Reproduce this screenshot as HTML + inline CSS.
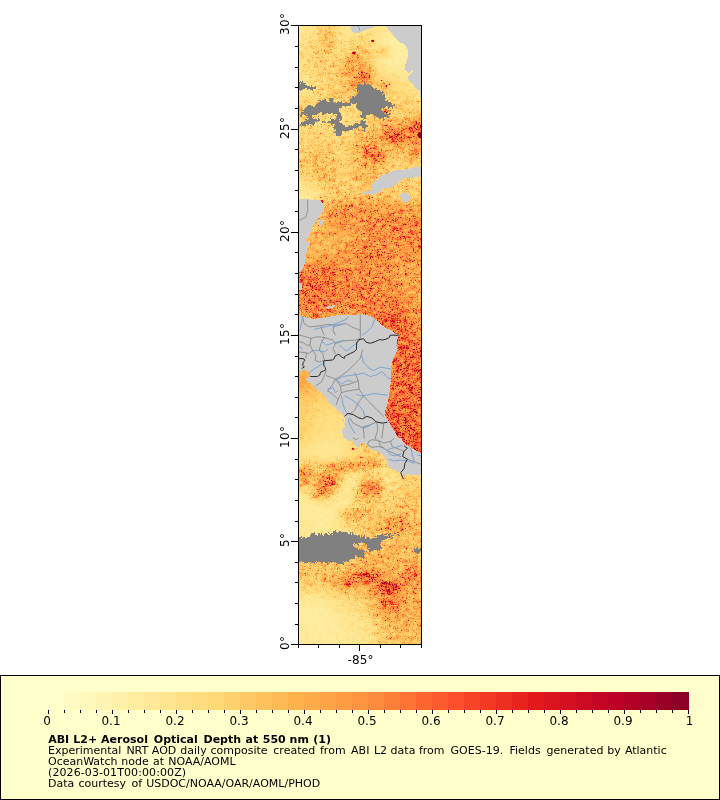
<!DOCTYPE html>
<html lang="en"><head><meta charset="utf-8"><title>ABI L2+ Aerosol Optical Depth at 550 nm</title>
<style>html,body{margin:0;padding:0;background:#fff;width:720px;height:800px;overflow:hidden}</style></head>
<body>
<svg width="720" height="800" viewBox="0 0 720 800" style="display:block;position:absolute;left:0;top:0">
<rect x="0" y="0" width="720" height="800" fill="#fff"/>
<defs>
<clipPath id="mc"><rect x="299" y="26" width="122" height="618"/></clipPath>
<filter id="b4" filterUnits="userSpaceOnUse" x="269" y="-4" width="182" height="678" color-interpolation-filters="sRGB"><feGaussianBlur stdDeviation="4.5"/></filter>
<filter id="bb1" filterUnits="userSpaceOnUse" x="269" y="-4" width="182" height="678" color-interpolation-filters="sRGB"><feGaussianBlur stdDeviation="1"/></filter>
<filter id="bb2" filterUnits="userSpaceOnUse" x="269" y="-4" width="182" height="678" color-interpolation-filters="sRGB"><feGaussianBlur stdDeviation="2"/></filter>
<filter id="bb3" filterUnits="userSpaceOnUse" x="269" y="-4" width="182" height="678" color-interpolation-filters="sRGB"><feGaussianBlur stdDeviation="3"/></filter>
<filter id="bb5" filterUnits="userSpaceOnUse" x="269" y="-4" width="182" height="678" color-interpolation-filters="sRGB"><feGaussianBlur stdDeviation="5"/></filter>
<filter id="cm" filterUnits="userSpaceOnUse" x="299" y="26" width="122" height="618" color-interpolation-filters="sRGB">
<feTurbulence type="fractalNoise" baseFrequency="0.75" numOctaves="2" seed="5" result="t"/>
<feColorMatrix in="t" type="matrix" values="1 0 0 0 0 1 0 0 0 0 1 0 0 0 0 0 0 0 0 1" result="n0"/>
<feComponentTransfer in="n0" result="n1"><feFuncR type="table" tableValues="0.272 0.272 0.272 0.304 0.352 0.400 0.488 0.640 0.920 1.000 1.000"/><feFuncG type="table" tableValues="0.272 0.272 0.272 0.304 0.352 0.400 0.488 0.640 0.920 1.000 1.000"/><feFuncB type="table" tableValues="0.272 0.272 0.272 0.304 0.352 0.400 0.488 0.640 0.920 1.000 1.000"/></feComponentTransfer>
<feTurbulence type="fractalNoise" baseFrequency="0.22" numOctaves="3" seed="11" result="t2"/>
<feColorMatrix in="t2" type="matrix" values="1 0 0 0 0 1 0 0 0 0 1 0 0 0 0 0 0 0 0 1" result="n20"/>
<feComponentTransfer in="n20" result="n2"><feFuncR type="table" tableValues="0.400 0.400 0.424 0.471 0.529 0.588 0.676 0.794 0.941 1.000 1.000"/><feFuncG type="table" tableValues="0.400 0.400 0.424 0.471 0.529 0.588 0.676 0.794 0.941 1.000 1.000"/><feFuncB type="table" tableValues="0.400 0.400 0.424 0.471 0.529 0.588 0.676 0.794 0.941 1.000 1.000"/></feComponentTransfer>
<feComposite in="n1" in2="n2" operator="arithmetic" k1="1" k2="0" k3="0" k4="0" result="n"/>
<feColorMatrix in="SourceGraphic" type="matrix" values="1 0 0 0 0 1 0 0 0 0 1 0 0 0 0 0 0 0 0 1" result="vg"/>
<feComponentTransfer in="vg" result="w"><feFuncR type="table" tableValues="0.0000 0.0075 0.0150 0.0225 0.0300 0.0650 0.1000 0.1450 0.1900 0.2200 0.2500 0.2750 0.3000 0.3250 0.3500 0.3750 0.4000 0.4250 0.4500 0.4750 0.5000 0.5250 0.5500 0.5750 0.6000 0.6250 0.6500 0.6750 0.7000 0.7250 0.7500 0.7750 0.8000 0.8250 0.8500 0.8750 0.9000 0.9250 0.9500 0.9750 1.0000"/><feFuncG type="table" tableValues="0.0000 0.0075 0.0150 0.0225 0.0300 0.0650 0.1000 0.1450 0.1900 0.2200 0.2500 0.2750 0.3000 0.3250 0.3500 0.3750 0.4000 0.4250 0.4500 0.4750 0.5000 0.5250 0.5500 0.5750 0.6000 0.6250 0.6500 0.6750 0.7000 0.7250 0.7500 0.7750 0.8000 0.8250 0.8500 0.8750 0.9000 0.9250 0.9500 0.9750 1.0000"/><feFuncB type="table" tableValues="0.0000 0.0075 0.0150 0.0225 0.0300 0.0650 0.1000 0.1450 0.1900 0.2200 0.2500 0.2750 0.3000 0.3250 0.3500 0.3750 0.4000 0.4250 0.4500 0.4750 0.5000 0.5250 0.5500 0.5750 0.6000 0.6250 0.6500 0.6750 0.7000 0.7250 0.7500 0.7750 0.8000 0.8250 0.8500 0.8750 0.9000 0.9250 0.9500 0.9750 1.0000"/></feComponentTransfer>
<feColorMatrix in="SourceGraphic" type="matrix" values="0 1 0 0 0 0 1 0 0 0 0 1 0 0 0 0 0 0 0 1" result="ag"/>
<feComposite in="w" in2="ag" operator="arithmetic" k1="1" k2="0" k3="0" k4="0" result="u"/>
<feComposite in="u" in2="n" operator="arithmetic" k1="4.25" k2="0" k3="0" k4="0" result="r"/>
<feColorMatrix in="vg" type="matrix" values="1 0 0 0 0 0 0 0 0 0 0 0 0 0 0 0 0 0 0 1" result="vr"/>
<feColorMatrix in="u" type="matrix" values="0 0 0 0 0 0 1 0 0 0 0 0 0 0 0 0 0 0 0 1" result="ugc"/>
<feComposite in="vr" in2="ugc" operator="arithmetic" k1="0" k2="1" k3="1" k4="0" result="vu"/>
<feColorMatrix in="vu" type="matrix" values="1 -1 0 0 0 1 -1 0 0 0 1 -1 0 0 0 0 0 0 0 1" result="q"/>
<feComposite in="q" in2="r" operator="arithmetic" k1="0" k2="1" k3="1" k4="0" result="v2"/>
<feComponentTransfer in="v2"><feFuncR type="table" tableValues="1.0000 1.0000 0.9961 0.9961 0.9922 0.9882 0.8902 0.7412 0.5020"/><feFuncG type="table" tableValues="1.0000 0.9294 0.8510 0.6980 0.5529 0.3059 0.1020 0.0000 0.0000"/><feFuncB type="table" tableValues="0.8000 0.6275 0.4627 0.2980 0.2353 0.1647 0.1098 0.1490 0.1490"/><feFuncA type="linear" slope="0" intercept="1"/></feComponentTransfer>
</filter>
</defs>
<g clip-path="url(#mc)">
<g filter="url(#cm)">
<rect x="294" y="21" width="132" height="628" fill="#4cbf00"/>
<g filter="url(#b4)" shape-rendering="crispEdges">
<rect x="274.00" y="1.00" width="35.47" height="35.60" fill="#28bf00"/>
<rect x="309.17" y="1.00" width="10.47" height="35.60" fill="#31bf00"/>
<rect x="319.33" y="1.00" width="10.47" height="35.60" fill="#48bf00"/>
<rect x="329.50" y="1.00" width="10.47" height="35.60" fill="#3bbf00"/>
<rect x="339.67" y="1.00" width="10.47" height="35.60" fill="#28bf00"/>
<rect x="349.83" y="1.00" width="10.47" height="35.60" fill="#2bbf00"/>
<rect x="360.00" y="1.00" width="10.47" height="35.60" fill="#2bbf00"/>
<rect x="370.17" y="1.00" width="10.47" height="35.60" fill="#316600"/>
<rect x="380.33" y="1.00" width="10.47" height="35.60" fill="#2b6600"/>
<rect x="390.50" y="1.00" width="10.47" height="35.60" fill="#216600"/>
<rect x="400.67" y="1.00" width="10.47" height="35.60" fill="#216600"/>
<rect x="410.83" y="1.00" width="35.47" height="35.60" fill="#216600"/>
<rect x="274.00" y="36.30" width="35.47" height="10.60" fill="#2ebf00"/>
<rect x="309.17" y="36.30" width="10.47" height="10.60" fill="#38bf00"/>
<rect x="319.33" y="36.30" width="10.47" height="10.60" fill="#48bf00"/>
<rect x="329.50" y="36.30" width="10.47" height="10.60" fill="#41bf00"/>
<rect x="339.67" y="36.30" width="10.47" height="10.60" fill="#2ebf00"/>
<rect x="349.83" y="36.30" width="10.47" height="10.60" fill="#38bf00"/>
<rect x="360.00" y="36.30" width="10.47" height="10.60" fill="#41bf00"/>
<rect x="370.17" y="36.30" width="10.47" height="10.60" fill="#316600"/>
<rect x="380.33" y="36.30" width="10.47" height="10.60" fill="#1b6600"/>
<rect x="390.50" y="36.30" width="10.47" height="10.60" fill="#1b6600"/>
<rect x="400.67" y="36.30" width="10.47" height="10.60" fill="#216600"/>
<rect x="410.83" y="36.30" width="35.47" height="10.60" fill="#216600"/>
<rect x="274.00" y="46.60" width="35.47" height="10.60" fill="#38bf00"/>
<rect x="309.17" y="46.60" width="10.47" height="10.60" fill="#3ebf00"/>
<rect x="319.33" y="46.60" width="10.47" height="10.60" fill="#48bf00"/>
<rect x="329.50" y="46.60" width="10.47" height="10.60" fill="#3bbf00"/>
<rect x="339.67" y="46.60" width="10.47" height="10.60" fill="#35bf00"/>
<rect x="349.83" y="46.60" width="10.47" height="10.60" fill="#51bf00"/>
<rect x="360.00" y="46.60" width="10.47" height="10.60" fill="#45bf00"/>
<rect x="370.17" y="46.60" width="10.47" height="10.60" fill="#386600"/>
<rect x="380.33" y="46.60" width="10.47" height="10.60" fill="#3e6600"/>
<rect x="390.50" y="46.60" width="10.47" height="10.60" fill="#1b6600"/>
<rect x="400.67" y="46.60" width="10.47" height="10.60" fill="#216600"/>
<rect x="410.83" y="46.60" width="35.47" height="10.60" fill="#216600"/>
<rect x="274.00" y="56.90" width="35.47" height="10.60" fill="#38bf00"/>
<rect x="309.17" y="56.90" width="10.47" height="10.60" fill="#3ebf00"/>
<rect x="319.33" y="56.90" width="10.47" height="10.60" fill="#41bf00"/>
<rect x="329.50" y="56.90" width="10.47" height="10.60" fill="#3ebf00"/>
<rect x="339.67" y="56.90" width="10.47" height="10.60" fill="#48bf00"/>
<rect x="349.83" y="56.90" width="10.47" height="10.60" fill="#61bf00"/>
<rect x="360.00" y="56.90" width="10.47" height="10.60" fill="#5bbf00"/>
<rect x="370.17" y="56.90" width="10.47" height="10.60" fill="#316600"/>
<rect x="380.33" y="56.90" width="10.47" height="10.60" fill="#1e6600"/>
<rect x="390.50" y="56.90" width="10.47" height="10.60" fill="#1e6600"/>
<rect x="400.67" y="56.90" width="10.47" height="10.60" fill="#216600"/>
<rect x="410.83" y="56.90" width="35.47" height="10.60" fill="#216600"/>
<rect x="274.00" y="67.20" width="35.47" height="10.60" fill="#35bf00"/>
<rect x="309.17" y="67.20" width="10.47" height="10.60" fill="#3bbf00"/>
<rect x="319.33" y="67.20" width="10.47" height="10.60" fill="#41bf00"/>
<rect x="329.50" y="67.20" width="10.47" height="10.60" fill="#41bf00"/>
<rect x="339.67" y="67.20" width="10.47" height="10.60" fill="#51bf00"/>
<rect x="349.83" y="67.20" width="10.47" height="10.60" fill="#5ebf00"/>
<rect x="360.00" y="67.20" width="10.47" height="10.60" fill="#6bbf00"/>
<rect x="370.17" y="67.20" width="10.47" height="10.60" fill="#456600"/>
<rect x="380.33" y="67.20" width="10.47" height="10.60" fill="#2b6600"/>
<rect x="390.50" y="67.20" width="10.47" height="10.60" fill="#2b6600"/>
<rect x="400.67" y="67.20" width="10.47" height="10.60" fill="#256600"/>
<rect x="410.83" y="67.20" width="35.47" height="10.60" fill="#216600"/>
<rect x="274.00" y="77.50" width="35.47" height="10.60" fill="#2ebf00"/>
<rect x="309.17" y="77.50" width="10.47" height="10.60" fill="#35bf00"/>
<rect x="319.33" y="77.50" width="10.47" height="10.60" fill="#3bbf00"/>
<rect x="329.50" y="77.50" width="10.47" height="10.60" fill="#41bf00"/>
<rect x="339.67" y="77.50" width="10.47" height="10.60" fill="#51bf00"/>
<rect x="349.83" y="77.50" width="10.47" height="10.60" fill="#61bf00"/>
<rect x="360.00" y="77.50" width="10.47" height="10.60" fill="#71bf00"/>
<rect x="370.17" y="77.50" width="10.47" height="10.60" fill="#4b6600"/>
<rect x="380.33" y="77.50" width="10.47" height="10.60" fill="#456600"/>
<rect x="390.50" y="77.50" width="10.47" height="10.60" fill="#386600"/>
<rect x="400.67" y="77.50" width="10.47" height="10.60" fill="#316600"/>
<rect x="410.83" y="77.50" width="35.47" height="10.60" fill="#316600"/>
<rect x="274.00" y="87.80" width="35.47" height="10.60" fill="#31bf00"/>
<rect x="309.17" y="87.80" width="10.47" height="10.60" fill="#38bf00"/>
<rect x="319.33" y="87.80" width="10.47" height="10.60" fill="#41bf00"/>
<rect x="329.50" y="87.80" width="10.47" height="10.60" fill="#48bf00"/>
<rect x="339.67" y="87.80" width="10.47" height="10.60" fill="#48bf00"/>
<rect x="349.83" y="87.80" width="10.47" height="10.60" fill="#58bf00"/>
<rect x="360.00" y="87.80" width="10.47" height="10.60" fill="#61bf00"/>
<rect x="370.17" y="87.80" width="10.47" height="10.60" fill="#4b6600"/>
<rect x="380.33" y="87.80" width="10.47" height="10.60" fill="#4b6600"/>
<rect x="390.50" y="87.80" width="10.47" height="10.60" fill="#3e6600"/>
<rect x="400.67" y="87.80" width="10.47" height="10.60" fill="#386600"/>
<rect x="410.83" y="87.80" width="35.47" height="10.60" fill="#316600"/>
<rect x="274.00" y="98.10" width="35.47" height="10.60" fill="#3dbf00"/>
<rect x="309.17" y="98.10" width="10.47" height="10.60" fill="#3dbf00"/>
<rect x="319.33" y="98.10" width="10.47" height="10.60" fill="#40bf00"/>
<rect x="329.50" y="98.10" width="10.47" height="10.60" fill="#46bf00"/>
<rect x="339.67" y="98.10" width="10.47" height="10.60" fill="#40bf00"/>
<rect x="349.83" y="98.10" width="10.47" height="10.60" fill="#45bf00"/>
<rect x="360.00" y="98.10" width="10.47" height="10.60" fill="#4bbf00"/>
<rect x="370.17" y="98.10" width="10.47" height="10.60" fill="#4bbf00"/>
<rect x="380.33" y="98.10" width="10.47" height="10.60" fill="#41bf00"/>
<rect x="390.50" y="98.10" width="10.47" height="10.60" fill="#41bf00"/>
<rect x="400.67" y="98.10" width="10.47" height="10.60" fill="#41bf00"/>
<rect x="410.83" y="98.10" width="35.47" height="10.60" fill="#3bbf00"/>
<rect x="274.00" y="108.40" width="35.47" height="10.60" fill="#4cbf00"/>
<rect x="309.17" y="108.40" width="10.47" height="10.60" fill="#40bf00"/>
<rect x="319.33" y="108.40" width="10.47" height="10.60" fill="#3dbf00"/>
<rect x="329.50" y="108.40" width="10.47" height="10.60" fill="#3dbf00"/>
<rect x="339.67" y="108.40" width="10.47" height="10.60" fill="#33bf00"/>
<rect x="349.83" y="108.40" width="10.47" height="10.60" fill="#38bf00"/>
<rect x="360.00" y="108.40" width="10.47" height="10.60" fill="#41bf00"/>
<rect x="370.17" y="108.40" width="10.47" height="10.60" fill="#4bbf00"/>
<rect x="380.33" y="108.40" width="10.47" height="10.60" fill="#51bf00"/>
<rect x="390.50" y="108.40" width="10.47" height="10.60" fill="#41bf00"/>
<rect x="400.67" y="108.40" width="10.47" height="10.60" fill="#48bf00"/>
<rect x="410.83" y="108.40" width="35.47" height="10.60" fill="#4bbf00"/>
<rect x="274.00" y="118.70" width="35.47" height="10.60" fill="#3dbf00"/>
<rect x="309.17" y="118.70" width="10.47" height="10.60" fill="#3dbf00"/>
<rect x="319.33" y="118.70" width="10.47" height="10.60" fill="#3dbf00"/>
<rect x="329.50" y="118.70" width="10.47" height="10.60" fill="#39bf00"/>
<rect x="339.67" y="118.70" width="10.47" height="10.60" fill="#36bf00"/>
<rect x="349.83" y="118.70" width="10.47" height="10.60" fill="#3bbf00"/>
<rect x="360.00" y="118.70" width="10.47" height="10.60" fill="#41bf00"/>
<rect x="370.17" y="118.70" width="10.47" height="10.60" fill="#45bf00"/>
<rect x="380.33" y="118.70" width="10.47" height="10.60" fill="#51bf00"/>
<rect x="390.50" y="118.70" width="10.47" height="10.60" fill="#51bf00"/>
<rect x="400.67" y="118.70" width="10.47" height="10.60" fill="#5bbf00"/>
<rect x="410.83" y="118.70" width="35.47" height="10.60" fill="#71bf00"/>
<rect x="274.00" y="129.00" width="35.47" height="10.60" fill="#3dbf00"/>
<rect x="309.17" y="129.00" width="10.47" height="10.60" fill="#3dbf00"/>
<rect x="319.33" y="129.00" width="10.47" height="10.60" fill="#3dbf00"/>
<rect x="329.50" y="129.00" width="10.47" height="10.60" fill="#3dbf00"/>
<rect x="339.67" y="129.00" width="10.47" height="10.60" fill="#3dbf00"/>
<rect x="349.83" y="129.00" width="10.47" height="10.60" fill="#45bf00"/>
<rect x="360.00" y="129.00" width="10.47" height="10.60" fill="#51bf00"/>
<rect x="370.17" y="129.00" width="10.47" height="10.60" fill="#58bf00"/>
<rect x="380.33" y="129.00" width="10.47" height="10.60" fill="#6bbf00"/>
<rect x="390.50" y="129.00" width="10.47" height="10.60" fill="#81bf00"/>
<rect x="400.67" y="129.00" width="10.47" height="10.60" fill="#71bf00"/>
<rect x="410.83" y="129.00" width="35.47" height="10.60" fill="#81bf00"/>
<rect x="274.00" y="139.30" width="35.47" height="10.60" fill="#3dbf00"/>
<rect x="309.17" y="139.30" width="10.47" height="10.60" fill="#43bf00"/>
<rect x="319.33" y="139.30" width="10.47" height="10.60" fill="#43bf00"/>
<rect x="329.50" y="139.30" width="10.47" height="10.60" fill="#3dbf00"/>
<rect x="339.67" y="139.30" width="10.47" height="10.60" fill="#3dbf00"/>
<rect x="349.83" y="139.30" width="10.47" height="10.60" fill="#51bf00"/>
<rect x="360.00" y="139.30" width="10.47" height="10.60" fill="#61bf00"/>
<rect x="370.17" y="139.30" width="10.47" height="10.60" fill="#5bbf00"/>
<rect x="380.33" y="139.30" width="10.47" height="10.60" fill="#51bf00"/>
<rect x="390.50" y="139.30" width="10.47" height="10.60" fill="#61bf00"/>
<rect x="400.67" y="139.30" width="10.47" height="10.60" fill="#5bbf00"/>
<rect x="410.83" y="139.30" width="35.47" height="10.60" fill="#61bf00"/>
<rect x="274.00" y="149.60" width="35.47" height="10.60" fill="#43bf00"/>
<rect x="309.17" y="149.60" width="10.47" height="10.60" fill="#4cbf00"/>
<rect x="319.33" y="149.60" width="10.47" height="10.60" fill="#4cbf00"/>
<rect x="329.50" y="149.60" width="10.47" height="10.60" fill="#43bf00"/>
<rect x="339.67" y="149.60" width="10.47" height="10.60" fill="#43bf00"/>
<rect x="349.83" y="149.60" width="10.47" height="10.60" fill="#51bf00"/>
<rect x="360.00" y="149.60" width="10.47" height="10.60" fill="#64bf00"/>
<rect x="370.17" y="149.60" width="10.47" height="10.60" fill="#78bf00"/>
<rect x="380.33" y="149.60" width="10.47" height="10.60" fill="#58bf00"/>
<rect x="390.50" y="149.60" width="10.47" height="10.60" fill="#41bf00"/>
<rect x="400.67" y="149.60" width="10.47" height="10.60" fill="#51bf00"/>
<rect x="410.83" y="149.60" width="35.47" height="10.60" fill="#61bf00"/>
<rect x="274.00" y="159.90" width="35.47" height="10.60" fill="#46bf00"/>
<rect x="309.17" y="159.90" width="10.47" height="10.60" fill="#53bf00"/>
<rect x="319.33" y="159.90" width="10.47" height="10.60" fill="#4cbf00"/>
<rect x="329.50" y="159.90" width="10.47" height="10.60" fill="#46bf00"/>
<rect x="339.67" y="159.90" width="10.47" height="10.60" fill="#39bf00"/>
<rect x="349.83" y="159.90" width="10.47" height="10.60" fill="#4bbf00"/>
<rect x="360.00" y="159.90" width="10.47" height="10.60" fill="#58bf00"/>
<rect x="370.17" y="159.90" width="10.47" height="10.60" fill="#5ebf00"/>
<rect x="380.33" y="159.90" width="10.47" height="10.60" fill="#4bbf00"/>
<rect x="390.50" y="159.90" width="10.47" height="10.60" fill="#3ebf00"/>
<rect x="400.67" y="159.90" width="10.47" height="10.60" fill="#41bf00"/>
<rect x="410.83" y="159.90" width="35.47" height="10.60" fill="#41bf00"/>
<rect x="274.00" y="170.20" width="35.47" height="10.60" fill="#40bf00"/>
<rect x="309.17" y="170.20" width="10.47" height="10.60" fill="#4cbf00"/>
<rect x="319.33" y="170.20" width="10.47" height="10.60" fill="#53bf00"/>
<rect x="329.50" y="170.20" width="10.47" height="10.60" fill="#4cbf00"/>
<rect x="339.67" y="170.20" width="10.47" height="10.60" fill="#3dbf00"/>
<rect x="349.83" y="170.20" width="10.47" height="10.60" fill="#58bf00"/>
<rect x="360.00" y="170.20" width="10.47" height="10.60" fill="#51bf00"/>
<rect x="370.17" y="170.20" width="10.47" height="10.60" fill="#51bf00"/>
<rect x="380.33" y="170.20" width="10.47" height="10.60" fill="#4bbf00"/>
<rect x="390.50" y="170.20" width="10.47" height="10.60" fill="#41bf00"/>
<rect x="400.67" y="170.20" width="10.47" height="10.60" fill="#41bf00"/>
<rect x="410.83" y="170.20" width="35.47" height="10.60" fill="#41bf00"/>
<rect x="274.00" y="180.50" width="35.47" height="10.60" fill="#2dbf00"/>
<rect x="309.17" y="180.50" width="10.47" height="10.60" fill="#33bf00"/>
<rect x="319.33" y="180.50" width="10.47" height="10.60" fill="#46bf00"/>
<rect x="329.50" y="180.50" width="10.47" height="10.60" fill="#4cbf00"/>
<rect x="339.67" y="180.50" width="10.47" height="10.60" fill="#3dbf00"/>
<rect x="349.83" y="180.50" width="10.47" height="10.60" fill="#3bbf00"/>
<rect x="360.00" y="180.50" width="10.47" height="10.60" fill="#51bf00"/>
<rect x="370.17" y="180.50" width="10.47" height="10.60" fill="#51bf00"/>
<rect x="380.33" y="180.50" width="10.47" height="10.60" fill="#4bbf00"/>
<rect x="390.50" y="180.50" width="10.47" height="10.60" fill="#41bf00"/>
<rect x="400.67" y="180.50" width="10.47" height="10.60" fill="#4bbf00"/>
<rect x="410.83" y="180.50" width="35.47" height="10.60" fill="#41bf00"/>
<rect x="274.00" y="190.80" width="35.47" height="10.60" fill="#25bf00"/>
<rect x="309.17" y="190.80" width="10.47" height="10.60" fill="#25bf00"/>
<rect x="319.33" y="190.80" width="10.47" height="10.60" fill="#35bf00"/>
<rect x="329.50" y="190.80" width="10.47" height="10.60" fill="#45bf00"/>
<rect x="339.67" y="190.80" width="10.47" height="10.60" fill="#4bbf00"/>
<rect x="349.83" y="190.80" width="10.47" height="10.60" fill="#4bbf00"/>
<rect x="360.00" y="190.80" width="10.47" height="10.60" fill="#4bbf00"/>
<rect x="370.17" y="190.80" width="10.47" height="10.60" fill="#4bbf00"/>
<rect x="380.33" y="190.80" width="10.47" height="10.60" fill="#4bbf00"/>
<rect x="390.50" y="190.80" width="10.47" height="10.60" fill="#3ebf00"/>
<rect x="400.67" y="190.80" width="10.47" height="10.60" fill="#41bf00"/>
<rect x="410.83" y="190.80" width="35.47" height="10.60" fill="#45bf00"/>
<rect x="274.00" y="201.10" width="35.47" height="10.60" fill="#35bf00"/>
<rect x="309.17" y="201.10" width="10.47" height="10.60" fill="#3bbf00"/>
<rect x="319.33" y="201.10" width="10.47" height="10.60" fill="#5bbf00"/>
<rect x="329.50" y="201.10" width="10.47" height="10.60" fill="#61bf00"/>
<rect x="339.67" y="201.10" width="10.47" height="10.60" fill="#6bbf00"/>
<rect x="349.83" y="201.10" width="10.47" height="10.60" fill="#6bbf00"/>
<rect x="360.00" y="201.10" width="10.47" height="10.60" fill="#6bbf00"/>
<rect x="370.17" y="201.10" width="10.47" height="10.60" fill="#6bbf00"/>
<rect x="380.33" y="201.10" width="10.47" height="10.60" fill="#61bf00"/>
<rect x="390.50" y="201.10" width="10.47" height="10.60" fill="#61bf00"/>
<rect x="400.67" y="201.10" width="10.47" height="10.60" fill="#5bbf00"/>
<rect x="410.83" y="201.10" width="35.47" height="10.60" fill="#61bf00"/>
<rect x="274.00" y="211.40" width="35.47" height="10.60" fill="#3bbf00"/>
<rect x="309.17" y="211.40" width="10.47" height="10.60" fill="#4bbf00"/>
<rect x="319.33" y="211.40" width="10.47" height="10.60" fill="#5bbf00"/>
<rect x="329.50" y="211.40" width="10.47" height="10.60" fill="#74bf00"/>
<rect x="339.67" y="211.40" width="10.47" height="10.60" fill="#74bf00"/>
<rect x="349.83" y="211.40" width="10.47" height="10.60" fill="#6bbf00"/>
<rect x="360.00" y="211.40" width="10.47" height="10.60" fill="#6bbf00"/>
<rect x="370.17" y="211.40" width="10.47" height="10.60" fill="#6bbf00"/>
<rect x="380.33" y="211.40" width="10.47" height="10.60" fill="#74bf00"/>
<rect x="390.50" y="211.40" width="10.47" height="10.60" fill="#7bbf00"/>
<rect x="400.67" y="211.40" width="10.47" height="10.60" fill="#6bbf00"/>
<rect x="410.83" y="211.40" width="35.47" height="10.60" fill="#6bbf00"/>
<rect x="274.00" y="221.70" width="35.47" height="10.60" fill="#3b9900"/>
<rect x="309.17" y="221.70" width="10.47" height="10.60" fill="#4b9900"/>
<rect x="319.33" y="221.70" width="10.47" height="10.60" fill="#5b9900"/>
<rect x="329.50" y="221.70" width="10.47" height="10.60" fill="#6b9900"/>
<rect x="339.67" y="221.70" width="10.47" height="10.60" fill="#6b9900"/>
<rect x="349.83" y="221.70" width="10.47" height="10.60" fill="#649900"/>
<rect x="360.00" y="221.70" width="10.47" height="10.60" fill="#74bf00"/>
<rect x="370.17" y="221.70" width="10.47" height="10.60" fill="#74bf00"/>
<rect x="380.33" y="221.70" width="10.47" height="10.60" fill="#74bf00"/>
<rect x="390.50" y="221.70" width="10.47" height="10.60" fill="#7bbf00"/>
<rect x="400.67" y="221.70" width="10.47" height="10.60" fill="#7bbf00"/>
<rect x="410.83" y="221.70" width="35.47" height="10.60" fill="#7bbf00"/>
<rect x="274.00" y="232.00" width="35.47" height="10.60" fill="#489900"/>
<rect x="309.17" y="232.00" width="10.47" height="10.60" fill="#589900"/>
<rect x="319.33" y="232.00" width="10.47" height="10.60" fill="#619900"/>
<rect x="329.50" y="232.00" width="10.47" height="10.60" fill="#589900"/>
<rect x="339.67" y="232.00" width="10.47" height="10.60" fill="#589900"/>
<rect x="349.83" y="232.00" width="10.47" height="10.60" fill="#619900"/>
<rect x="360.00" y="232.00" width="10.47" height="10.60" fill="#71bf00"/>
<rect x="370.17" y="232.00" width="10.47" height="10.60" fill="#71bf00"/>
<rect x="380.33" y="232.00" width="10.47" height="10.60" fill="#71bf00"/>
<rect x="390.50" y="232.00" width="10.47" height="10.60" fill="#73bf00"/>
<rect x="400.67" y="232.00" width="10.47" height="10.60" fill="#73bf00"/>
<rect x="410.83" y="232.00" width="35.47" height="10.60" fill="#73bf00"/>
<rect x="274.00" y="242.30" width="35.47" height="10.60" fill="#489900"/>
<rect x="309.17" y="242.30" width="10.47" height="10.60" fill="#589900"/>
<rect x="319.33" y="242.30" width="10.47" height="10.60" fill="#4e9900"/>
<rect x="329.50" y="242.30" width="10.47" height="10.60" fill="#589900"/>
<rect x="339.67" y="242.30" width="10.47" height="10.60" fill="#689900"/>
<rect x="349.83" y="242.30" width="10.47" height="10.60" fill="#6e9900"/>
<rect x="360.00" y="242.30" width="10.47" height="10.60" fill="#78bf00"/>
<rect x="370.17" y="242.30" width="10.47" height="10.60" fill="#71bf00"/>
<rect x="380.33" y="242.30" width="10.47" height="10.60" fill="#71bf00"/>
<rect x="390.50" y="242.30" width="10.47" height="10.60" fill="#73bf00"/>
<rect x="400.67" y="242.30" width="10.47" height="10.60" fill="#73bf00"/>
<rect x="410.83" y="242.30" width="35.47" height="10.60" fill="#73bf00"/>
<rect x="274.00" y="252.60" width="35.47" height="10.60" fill="#589900"/>
<rect x="309.17" y="252.60" width="10.47" height="10.60" fill="#619900"/>
<rect x="319.33" y="252.60" width="10.47" height="10.60" fill="#6e9900"/>
<rect x="329.50" y="252.60" width="10.47" height="10.60" fill="#689900"/>
<rect x="339.67" y="252.60" width="10.47" height="10.60" fill="#6e9900"/>
<rect x="349.83" y="252.60" width="10.47" height="10.60" fill="#6e9900"/>
<rect x="360.00" y="252.60" width="10.47" height="10.60" fill="#78bf00"/>
<rect x="370.17" y="252.60" width="10.47" height="10.60" fill="#78bf00"/>
<rect x="380.33" y="252.60" width="10.47" height="10.60" fill="#78bf00"/>
<rect x="390.50" y="252.60" width="10.47" height="10.60" fill="#6cbf00"/>
<rect x="400.67" y="252.60" width="10.47" height="10.60" fill="#6cbf00"/>
<rect x="410.83" y="252.60" width="35.47" height="10.60" fill="#73bf00"/>
<rect x="274.00" y="262.90" width="35.47" height="10.60" fill="#70bf00"/>
<rect x="309.17" y="262.90" width="10.47" height="10.60" fill="#76bf00"/>
<rect x="319.33" y="262.90" width="10.47" height="10.60" fill="#7fbf00"/>
<rect x="329.50" y="262.90" width="10.47" height="10.60" fill="#76bf00"/>
<rect x="339.67" y="262.90" width="10.47" height="10.60" fill="#6cbf00"/>
<rect x="349.83" y="262.90" width="10.47" height="10.60" fill="#6cbf00"/>
<rect x="360.00" y="262.90" width="10.47" height="10.60" fill="#74bf00"/>
<rect x="370.17" y="262.90" width="10.47" height="10.60" fill="#6ebf00"/>
<rect x="380.33" y="262.90" width="10.47" height="10.60" fill="#6ebf00"/>
<rect x="390.50" y="262.90" width="10.47" height="10.60" fill="#69bf00"/>
<rect x="400.67" y="262.90" width="10.47" height="10.60" fill="#63bf00"/>
<rect x="410.83" y="262.90" width="35.47" height="10.60" fill="#63bf00"/>
<rect x="274.00" y="273.20" width="35.47" height="10.60" fill="#87bf00"/>
<rect x="309.17" y="273.20" width="10.47" height="10.60" fill="#87bf00"/>
<rect x="319.33" y="273.20" width="10.47" height="10.60" fill="#87bf00"/>
<rect x="329.50" y="273.20" width="10.47" height="10.60" fill="#81bf00"/>
<rect x="339.67" y="273.20" width="10.47" height="10.60" fill="#78bf00"/>
<rect x="349.83" y="273.20" width="10.47" height="10.60" fill="#78bf00"/>
<rect x="360.00" y="273.20" width="10.47" height="10.60" fill="#74bf00"/>
<rect x="370.17" y="273.20" width="10.47" height="10.60" fill="#74bf00"/>
<rect x="380.33" y="273.20" width="10.47" height="10.60" fill="#74bf00"/>
<rect x="390.50" y="273.20" width="10.47" height="10.60" fill="#69bf00"/>
<rect x="400.67" y="273.20" width="10.47" height="10.60" fill="#63bf00"/>
<rect x="410.83" y="273.20" width="35.47" height="10.60" fill="#63bf00"/>
<rect x="274.00" y="283.50" width="35.47" height="10.60" fill="#87bf00"/>
<rect x="309.17" y="283.50" width="10.47" height="10.60" fill="#87bf00"/>
<rect x="319.33" y="283.50" width="10.47" height="10.60" fill="#81bf00"/>
<rect x="329.50" y="283.50" width="10.47" height="10.60" fill="#81bf00"/>
<rect x="339.67" y="283.50" width="10.47" height="10.60" fill="#78bf00"/>
<rect x="349.83" y="283.50" width="10.47" height="10.60" fill="#78bf00"/>
<rect x="360.00" y="283.50" width="10.47" height="10.60" fill="#78bf00"/>
<rect x="370.17" y="283.50" width="10.47" height="10.60" fill="#78bf00"/>
<rect x="380.33" y="283.50" width="10.47" height="10.60" fill="#78bf00"/>
<rect x="390.50" y="283.50" width="10.47" height="10.60" fill="#70bf00"/>
<rect x="400.67" y="283.50" width="10.47" height="10.60" fill="#69bf00"/>
<rect x="410.83" y="283.50" width="35.47" height="10.60" fill="#63bf00"/>
<rect x="274.00" y="293.80" width="35.47" height="10.60" fill="#7ebf00"/>
<rect x="309.17" y="293.80" width="10.47" height="10.60" fill="#7ebf00"/>
<rect x="319.33" y="293.80" width="10.47" height="10.60" fill="#7ebf00"/>
<rect x="329.50" y="293.80" width="10.47" height="10.60" fill="#7ebf00"/>
<rect x="339.67" y="293.80" width="10.47" height="10.60" fill="#78bf00"/>
<rect x="349.83" y="293.80" width="10.47" height="10.60" fill="#78bf00"/>
<rect x="360.00" y="293.80" width="10.47" height="10.60" fill="#78bf00"/>
<rect x="370.17" y="293.80" width="10.47" height="10.60" fill="#78bf00"/>
<rect x="380.33" y="293.80" width="10.47" height="10.60" fill="#78bf00"/>
<rect x="390.50" y="293.80" width="10.47" height="10.60" fill="#73bf00"/>
<rect x="400.67" y="293.80" width="10.47" height="10.60" fill="#69bf00"/>
<rect x="410.83" y="293.80" width="35.47" height="10.60" fill="#63bf00"/>
<rect x="274.00" y="304.10" width="35.47" height="10.60" fill="#78bf00"/>
<rect x="309.17" y="304.10" width="10.47" height="10.60" fill="#7ebf00"/>
<rect x="319.33" y="304.10" width="10.47" height="10.60" fill="#7ebf00"/>
<rect x="329.50" y="304.10" width="10.47" height="10.60" fill="#78bf00"/>
<rect x="339.67" y="304.10" width="10.47" height="10.60" fill="#6ebf00"/>
<rect x="349.83" y="304.10" width="10.47" height="10.60" fill="#78bf00"/>
<rect x="360.00" y="304.10" width="10.47" height="10.60" fill="#7ebf00"/>
<rect x="370.17" y="304.10" width="10.47" height="10.60" fill="#7ebf00"/>
<rect x="380.33" y="304.10" width="10.47" height="10.60" fill="#7ebf00"/>
<rect x="390.50" y="304.10" width="10.47" height="10.60" fill="#87bf00"/>
<rect x="400.67" y="304.10" width="10.47" height="10.60" fill="#78bf00"/>
<rect x="410.83" y="304.10" width="35.47" height="10.60" fill="#68bf00"/>
<rect x="274.00" y="314.40" width="35.47" height="10.60" fill="#5ebf00"/>
<rect x="309.17" y="314.40" width="10.47" height="10.60" fill="#6ebf00"/>
<rect x="319.33" y="314.40" width="10.47" height="10.60" fill="#6ebf00"/>
<rect x="329.50" y="314.40" width="10.47" height="10.60" fill="#68bf00"/>
<rect x="339.67" y="314.40" width="10.47" height="10.60" fill="#5ebf00"/>
<rect x="349.83" y="314.40" width="10.47" height="10.60" fill="#5ebf00"/>
<rect x="360.00" y="314.40" width="10.47" height="10.60" fill="#78bf00"/>
<rect x="370.17" y="314.40" width="10.47" height="10.60" fill="#87bf00"/>
<rect x="380.33" y="314.40" width="10.47" height="10.60" fill="#8ebf00"/>
<rect x="390.50" y="314.40" width="10.47" height="10.60" fill="#94bf00"/>
<rect x="400.67" y="314.40" width="10.47" height="10.60" fill="#7ebf00"/>
<rect x="410.83" y="314.40" width="35.47" height="10.60" fill="#6ebf00"/>
<rect x="274.00" y="324.70" width="35.47" height="10.60" fill="#5ebf00"/>
<rect x="309.17" y="324.70" width="10.47" height="10.60" fill="#6ebf00"/>
<rect x="319.33" y="324.70" width="10.47" height="10.60" fill="#6ebf00"/>
<rect x="329.50" y="324.70" width="10.47" height="10.60" fill="#68bf00"/>
<rect x="339.67" y="324.70" width="10.47" height="10.60" fill="#5ebf00"/>
<rect x="349.83" y="324.70" width="10.47" height="10.60" fill="#5ebf00"/>
<rect x="360.00" y="324.70" width="10.47" height="10.60" fill="#78bf00"/>
<rect x="370.17" y="324.70" width="10.47" height="10.60" fill="#7ebf00"/>
<rect x="380.33" y="324.70" width="10.47" height="10.60" fill="#8ebf00"/>
<rect x="390.50" y="324.70" width="10.47" height="10.60" fill="#94bf00"/>
<rect x="400.67" y="324.70" width="10.47" height="10.60" fill="#87bf00"/>
<rect x="410.83" y="324.70" width="35.47" height="10.60" fill="#6ebf00"/>
<rect x="274.00" y="335.00" width="35.47" height="10.60" fill="#61bf00"/>
<rect x="309.17" y="335.00" width="10.47" height="10.60" fill="#61bf00"/>
<rect x="319.33" y="335.00" width="10.47" height="10.60" fill="#61bf00"/>
<rect x="329.50" y="335.00" width="10.47" height="10.60" fill="#61bf00"/>
<rect x="339.67" y="335.00" width="10.47" height="10.60" fill="#61bf00"/>
<rect x="349.83" y="335.00" width="10.47" height="10.60" fill="#61bf00"/>
<rect x="360.00" y="335.00" width="10.47" height="10.60" fill="#71bf00"/>
<rect x="370.17" y="335.00" width="10.47" height="10.60" fill="#78bf00"/>
<rect x="380.33" y="335.00" width="10.47" height="10.60" fill="#87bf00"/>
<rect x="390.50" y="335.00" width="10.47" height="10.60" fill="#87bf00"/>
<rect x="400.67" y="335.00" width="10.47" height="10.60" fill="#87bf00"/>
<rect x="410.83" y="335.00" width="35.47" height="10.60" fill="#81bf00"/>
<rect x="274.00" y="345.30" width="35.47" height="10.60" fill="#61bf00"/>
<rect x="309.17" y="345.30" width="10.47" height="10.60" fill="#61bf00"/>
<rect x="319.33" y="345.30" width="10.47" height="10.60" fill="#61bf00"/>
<rect x="329.50" y="345.30" width="10.47" height="10.60" fill="#61bf00"/>
<rect x="339.67" y="345.30" width="10.47" height="10.60" fill="#61bf00"/>
<rect x="349.83" y="345.30" width="10.47" height="10.60" fill="#61bf00"/>
<rect x="360.00" y="345.30" width="10.47" height="10.60" fill="#71bf00"/>
<rect x="370.17" y="345.30" width="10.47" height="10.60" fill="#78bf00"/>
<rect x="380.33" y="345.30" width="10.47" height="10.60" fill="#8bbf00"/>
<rect x="390.50" y="345.30" width="10.47" height="10.60" fill="#8bbf00"/>
<rect x="400.67" y="345.30" width="10.47" height="10.60" fill="#91bf00"/>
<rect x="410.83" y="345.30" width="35.47" height="10.60" fill="#87bf00"/>
<rect x="274.00" y="355.60" width="35.47" height="10.60" fill="#61bf00"/>
<rect x="309.17" y="355.60" width="10.47" height="10.60" fill="#61bf00"/>
<rect x="319.33" y="355.60" width="10.47" height="10.60" fill="#61bf00"/>
<rect x="329.50" y="355.60" width="10.47" height="10.60" fill="#61bf00"/>
<rect x="339.67" y="355.60" width="10.47" height="10.60" fill="#61bf00"/>
<rect x="349.83" y="355.60" width="10.47" height="10.60" fill="#61bf00"/>
<rect x="360.00" y="355.60" width="10.47" height="10.60" fill="#71bf00"/>
<rect x="370.17" y="355.60" width="10.47" height="10.60" fill="#78bf00"/>
<rect x="380.33" y="355.60" width="10.47" height="10.60" fill="#81bf00"/>
<rect x="390.50" y="355.60" width="10.47" height="10.60" fill="#81bf00"/>
<rect x="400.67" y="355.60" width="10.47" height="10.60" fill="#91bf00"/>
<rect x="410.83" y="355.60" width="35.47" height="10.60" fill="#87bf00"/>
<rect x="274.00" y="365.90" width="35.47" height="10.60" fill="#5b4000"/>
<rect x="309.17" y="365.90" width="10.47" height="10.60" fill="#614000"/>
<rect x="319.33" y="365.90" width="10.47" height="10.60" fill="#6b4000"/>
<rect x="329.50" y="365.90" width="10.47" height="10.60" fill="#6b4000"/>
<rect x="339.67" y="365.90" width="10.47" height="10.60" fill="#6b4000"/>
<rect x="349.83" y="365.90" width="10.47" height="10.60" fill="#6b4000"/>
<rect x="360.00" y="365.90" width="10.47" height="10.60" fill="#71bf00"/>
<rect x="370.17" y="365.90" width="10.47" height="10.60" fill="#78bf00"/>
<rect x="380.33" y="365.90" width="10.47" height="10.60" fill="#81bf00"/>
<rect x="390.50" y="365.90" width="10.47" height="10.60" fill="#81bf00"/>
<rect x="400.67" y="365.90" width="10.47" height="10.60" fill="#8bbf00"/>
<rect x="410.83" y="365.90" width="35.47" height="10.60" fill="#87bf00"/>
<rect x="274.00" y="376.20" width="35.47" height="10.60" fill="#6b4000"/>
<rect x="309.17" y="376.20" width="10.47" height="10.60" fill="#5b4000"/>
<rect x="319.33" y="376.20" width="10.47" height="10.60" fill="#5b4000"/>
<rect x="329.50" y="376.20" width="10.47" height="10.60" fill="#5b4000"/>
<rect x="339.67" y="376.20" width="10.47" height="10.60" fill="#5b4000"/>
<rect x="349.83" y="376.20" width="10.47" height="10.60" fill="#6b4000"/>
<rect x="360.00" y="376.20" width="10.47" height="10.60" fill="#71bf00"/>
<rect x="370.17" y="376.20" width="10.47" height="10.60" fill="#78bf00"/>
<rect x="380.33" y="376.20" width="10.47" height="10.60" fill="#81bf00"/>
<rect x="390.50" y="376.20" width="10.47" height="10.60" fill="#81bf00"/>
<rect x="400.67" y="376.20" width="10.47" height="10.60" fill="#8bbf00"/>
<rect x="410.83" y="376.20" width="35.47" height="10.60" fill="#87bf00"/>
<rect x="274.00" y="386.50" width="35.47" height="10.60" fill="#544000"/>
<rect x="309.17" y="386.50" width="10.47" height="10.60" fill="#4e4000"/>
<rect x="319.33" y="386.50" width="10.47" height="10.60" fill="#4b4000"/>
<rect x="329.50" y="386.50" width="10.47" height="10.60" fill="#4b4000"/>
<rect x="339.67" y="386.50" width="10.47" height="10.60" fill="#4b4000"/>
<rect x="349.83" y="386.50" width="10.47" height="10.60" fill="#5b4000"/>
<rect x="360.00" y="386.50" width="10.47" height="10.60" fill="#71bf00"/>
<rect x="370.17" y="386.50" width="10.47" height="10.60" fill="#78bf00"/>
<rect x="380.33" y="386.50" width="10.47" height="10.60" fill="#81bf00"/>
<rect x="390.50" y="386.50" width="10.47" height="10.60" fill="#81bf00"/>
<rect x="400.67" y="386.50" width="10.47" height="10.60" fill="#8bbf00"/>
<rect x="410.83" y="386.50" width="35.47" height="10.60" fill="#87bf00"/>
<rect x="274.00" y="396.80" width="35.47" height="10.60" fill="#4b4000"/>
<rect x="309.17" y="396.80" width="10.47" height="10.60" fill="#454000"/>
<rect x="319.33" y="396.80" width="10.47" height="10.60" fill="#414000"/>
<rect x="329.50" y="396.80" width="10.47" height="10.60" fill="#414000"/>
<rect x="339.67" y="396.80" width="10.47" height="10.60" fill="#414000"/>
<rect x="349.83" y="396.80" width="10.47" height="10.60" fill="#5b4000"/>
<rect x="360.00" y="396.80" width="10.47" height="10.60" fill="#71bf00"/>
<rect x="370.17" y="396.80" width="10.47" height="10.60" fill="#78bf00"/>
<rect x="380.33" y="396.80" width="10.47" height="10.60" fill="#81bf00"/>
<rect x="390.50" y="396.80" width="10.47" height="10.60" fill="#8bbf00"/>
<rect x="400.67" y="396.80" width="10.47" height="10.60" fill="#8bbf00"/>
<rect x="410.83" y="396.80" width="35.47" height="10.60" fill="#87bf00"/>
<rect x="274.00" y="407.10" width="35.47" height="10.60" fill="#454000"/>
<rect x="309.17" y="407.10" width="10.47" height="10.60" fill="#414000"/>
<rect x="319.33" y="407.10" width="10.47" height="10.60" fill="#3b4000"/>
<rect x="329.50" y="407.10" width="10.47" height="10.60" fill="#3b4000"/>
<rect x="339.67" y="407.10" width="10.47" height="10.60" fill="#3b4000"/>
<rect x="349.83" y="407.10" width="10.47" height="10.60" fill="#4b4000"/>
<rect x="360.00" y="407.10" width="10.47" height="10.60" fill="#61bf00"/>
<rect x="370.17" y="407.10" width="10.47" height="10.60" fill="#78bf00"/>
<rect x="380.33" y="407.10" width="10.47" height="10.60" fill="#91bf00"/>
<rect x="390.50" y="407.10" width="10.47" height="10.60" fill="#91bf00"/>
<rect x="400.67" y="407.10" width="10.47" height="10.60" fill="#91bf00"/>
<rect x="410.83" y="407.10" width="35.47" height="10.60" fill="#87bf00"/>
<rect x="274.00" y="417.40" width="35.47" height="10.60" fill="#454000"/>
<rect x="309.17" y="417.40" width="10.47" height="10.60" fill="#3b4000"/>
<rect x="319.33" y="417.40" width="10.47" height="10.60" fill="#354000"/>
<rect x="329.50" y="417.40" width="10.47" height="10.60" fill="#354000"/>
<rect x="339.67" y="417.40" width="10.47" height="10.60" fill="#354000"/>
<rect x="349.83" y="417.40" width="10.47" height="10.60" fill="#414000"/>
<rect x="360.00" y="417.40" width="10.47" height="10.60" fill="#51bf00"/>
<rect x="370.17" y="417.40" width="10.47" height="10.60" fill="#78bf00"/>
<rect x="380.33" y="417.40" width="10.47" height="10.60" fill="#91bf00"/>
<rect x="390.50" y="417.40" width="10.47" height="10.60" fill="#91bf00"/>
<rect x="400.67" y="417.40" width="10.47" height="10.60" fill="#91bf00"/>
<rect x="410.83" y="417.40" width="35.47" height="10.60" fill="#87bf00"/>
<rect x="274.00" y="427.70" width="35.47" height="10.60" fill="#454000"/>
<rect x="309.17" y="427.70" width="10.47" height="10.60" fill="#3b4000"/>
<rect x="319.33" y="427.70" width="10.47" height="10.60" fill="#354000"/>
<rect x="329.50" y="427.70" width="10.47" height="10.60" fill="#314000"/>
<rect x="339.67" y="427.70" width="10.47" height="10.60" fill="#354000"/>
<rect x="349.83" y="427.70" width="10.47" height="10.60" fill="#414000"/>
<rect x="360.00" y="427.70" width="10.47" height="10.60" fill="#51bf00"/>
<rect x="370.17" y="427.70" width="10.47" height="10.60" fill="#78bf00"/>
<rect x="380.33" y="427.70" width="10.47" height="10.60" fill="#91bf00"/>
<rect x="390.50" y="427.70" width="10.47" height="10.60" fill="#91bf00"/>
<rect x="400.67" y="427.70" width="10.47" height="10.60" fill="#91bf00"/>
<rect x="410.83" y="427.70" width="35.47" height="10.60" fill="#8ebf00"/>
<rect x="274.00" y="438.00" width="35.47" height="10.60" fill="#384000"/>
<rect x="309.17" y="438.00" width="10.47" height="10.60" fill="#314000"/>
<rect x="319.33" y="438.00" width="10.47" height="10.60" fill="#2b4000"/>
<rect x="329.50" y="438.00" width="10.47" height="10.60" fill="#2b4000"/>
<rect x="339.67" y="438.00" width="10.47" height="10.60" fill="#314000"/>
<rect x="349.83" y="438.00" width="10.47" height="10.60" fill="#414000"/>
<rect x="360.00" y="438.00" width="10.47" height="10.60" fill="#51bf00"/>
<rect x="370.17" y="438.00" width="10.47" height="10.60" fill="#68bf00"/>
<rect x="380.33" y="438.00" width="10.47" height="10.60" fill="#87bf00"/>
<rect x="390.50" y="438.00" width="10.47" height="10.60" fill="#97bf00"/>
<rect x="400.67" y="438.00" width="10.47" height="10.60" fill="#97bf00"/>
<rect x="410.83" y="438.00" width="35.47" height="10.60" fill="#97bf00"/>
<rect x="274.00" y="448.30" width="35.47" height="10.60" fill="#2e4000"/>
<rect x="309.17" y="448.30" width="10.47" height="10.60" fill="#284000"/>
<rect x="319.33" y="448.30" width="10.47" height="10.60" fill="#284000"/>
<rect x="329.50" y="448.30" width="10.47" height="10.60" fill="#284000"/>
<rect x="339.67" y="448.30" width="10.47" height="10.60" fill="#2e4000"/>
<rect x="349.83" y="448.30" width="10.47" height="10.60" fill="#384000"/>
<rect x="360.00" y="448.30" width="10.47" height="10.60" fill="#41bf00"/>
<rect x="370.17" y="448.30" width="10.47" height="10.60" fill="#38bf00"/>
<rect x="380.33" y="448.30" width="10.47" height="10.60" fill="#48bf00"/>
<rect x="390.50" y="448.30" width="10.47" height="10.60" fill="#68bf00"/>
<rect x="400.67" y="448.30" width="10.47" height="10.60" fill="#91bf00"/>
<rect x="410.83" y="448.30" width="35.47" height="10.60" fill="#a1bf00"/>
<rect x="274.00" y="458.60" width="35.47" height="10.60" fill="#41bf00"/>
<rect x="309.17" y="458.60" width="10.47" height="10.60" fill="#48bf00"/>
<rect x="319.33" y="458.60" width="10.47" height="10.60" fill="#38bf00"/>
<rect x="329.50" y="458.60" width="10.47" height="10.60" fill="#41bf00"/>
<rect x="339.67" y="458.60" width="10.47" height="10.60" fill="#48bf00"/>
<rect x="349.83" y="458.60" width="10.47" height="10.60" fill="#48bf00"/>
<rect x="360.00" y="458.60" width="10.47" height="10.60" fill="#58bf00"/>
<rect x="370.17" y="458.60" width="10.47" height="10.60" fill="#51bf00"/>
<rect x="380.33" y="458.60" width="10.47" height="10.60" fill="#38bf00"/>
<rect x="390.50" y="458.60" width="10.47" height="10.60" fill="#48bf00"/>
<rect x="400.67" y="458.60" width="10.47" height="10.60" fill="#51bf00"/>
<rect x="410.83" y="458.60" width="35.47" height="10.60" fill="#51bf00"/>
<rect x="274.00" y="468.90" width="35.47" height="10.60" fill="#58bf00"/>
<rect x="309.17" y="468.90" width="10.47" height="10.60" fill="#48bf00"/>
<rect x="319.33" y="468.90" width="10.47" height="10.60" fill="#58bf00"/>
<rect x="329.50" y="468.90" width="10.47" height="10.60" fill="#58bf00"/>
<rect x="339.67" y="468.90" width="10.47" height="10.60" fill="#3ebf00"/>
<rect x="349.83" y="468.90" width="10.47" height="10.60" fill="#25bf00"/>
<rect x="360.00" y="468.90" width="10.47" height="10.60" fill="#38bf00"/>
<rect x="370.17" y="468.90" width="10.47" height="10.60" fill="#38bf00"/>
<rect x="380.33" y="468.90" width="10.47" height="10.60" fill="#31bf00"/>
<rect x="390.50" y="468.90" width="10.47" height="10.60" fill="#2ebf00"/>
<rect x="400.67" y="468.90" width="10.47" height="10.60" fill="#41bf00"/>
<rect x="410.83" y="468.90" width="35.47" height="10.60" fill="#41bf00"/>
<rect x="274.00" y="479.20" width="35.47" height="10.60" fill="#48bf00"/>
<rect x="309.17" y="479.20" width="10.47" height="10.60" fill="#48bf00"/>
<rect x="319.33" y="479.20" width="10.47" height="10.60" fill="#61bf00"/>
<rect x="329.50" y="479.20" width="10.47" height="10.60" fill="#51bf00"/>
<rect x="339.67" y="479.20" width="10.47" height="10.60" fill="#25bf00"/>
<rect x="349.83" y="479.20" width="10.47" height="10.60" fill="#25bf00"/>
<rect x="360.00" y="479.20" width="10.47" height="10.60" fill="#4ebf00"/>
<rect x="370.17" y="479.20" width="10.47" height="10.60" fill="#48bf00"/>
<rect x="380.33" y="479.20" width="10.47" height="10.60" fill="#31bf00"/>
<rect x="390.50" y="479.20" width="10.47" height="10.60" fill="#38bf00"/>
<rect x="400.67" y="479.20" width="10.47" height="10.60" fill="#41bf00"/>
<rect x="410.83" y="479.20" width="35.47" height="10.60" fill="#41bf00"/>
<rect x="274.00" y="489.50" width="35.47" height="10.60" fill="#29bf00"/>
<rect x="309.17" y="489.50" width="10.47" height="10.60" fill="#3dbf00"/>
<rect x="319.33" y="489.50" width="10.47" height="10.60" fill="#53bf00"/>
<rect x="329.50" y="489.50" width="10.47" height="10.60" fill="#33bf00"/>
<rect x="339.67" y="489.50" width="10.47" height="10.60" fill="#23bf00"/>
<rect x="349.83" y="489.50" width="10.47" height="10.60" fill="#41bf00"/>
<rect x="360.00" y="489.50" width="10.47" height="10.60" fill="#58bf00"/>
<rect x="370.17" y="489.50" width="10.47" height="10.60" fill="#51bf00"/>
<rect x="380.33" y="489.50" width="10.47" height="10.60" fill="#38bf00"/>
<rect x="390.50" y="489.50" width="10.47" height="10.60" fill="#41bf00"/>
<rect x="400.67" y="489.50" width="10.47" height="10.60" fill="#4bbf00"/>
<rect x="410.83" y="489.50" width="35.47" height="10.60" fill="#4bbf00"/>
<rect x="274.00" y="499.80" width="35.47" height="10.60" fill="#236600"/>
<rect x="309.17" y="499.80" width="10.47" height="10.60" fill="#236600"/>
<rect x="319.33" y="499.80" width="10.47" height="10.60" fill="#296600"/>
<rect x="329.50" y="499.80" width="10.47" height="10.60" fill="#236600"/>
<rect x="339.67" y="499.80" width="10.47" height="10.60" fill="#23bf00"/>
<rect x="349.83" y="499.80" width="10.47" height="10.60" fill="#31bf00"/>
<rect x="360.00" y="499.80" width="10.47" height="10.60" fill="#41bf00"/>
<rect x="370.17" y="499.80" width="10.47" height="10.60" fill="#41bf00"/>
<rect x="380.33" y="499.80" width="10.47" height="10.60" fill="#41bf00"/>
<rect x="390.50" y="499.80" width="10.47" height="10.60" fill="#41bf00"/>
<rect x="400.67" y="499.80" width="10.47" height="10.60" fill="#51bf00"/>
<rect x="410.83" y="499.80" width="35.47" height="10.60" fill="#4bbf00"/>
<rect x="274.00" y="510.10" width="35.47" height="10.60" fill="#236600"/>
<rect x="309.17" y="510.10" width="10.47" height="10.60" fill="#236600"/>
<rect x="319.33" y="510.10" width="10.47" height="10.60" fill="#236600"/>
<rect x="329.50" y="510.10" width="10.47" height="10.60" fill="#236600"/>
<rect x="339.67" y="510.10" width="10.47" height="10.60" fill="#3dbf00"/>
<rect x="349.83" y="510.10" width="10.47" height="10.60" fill="#48bf00"/>
<rect x="360.00" y="510.10" width="10.47" height="10.60" fill="#41bf00"/>
<rect x="370.17" y="510.10" width="10.47" height="10.60" fill="#48bf00"/>
<rect x="380.33" y="510.10" width="10.47" height="10.60" fill="#48bf00"/>
<rect x="390.50" y="510.10" width="10.47" height="10.60" fill="#48bf00"/>
<rect x="400.67" y="510.10" width="10.47" height="10.60" fill="#51bf00"/>
<rect x="410.83" y="510.10" width="35.47" height="10.60" fill="#4bbf00"/>
<rect x="274.00" y="520.40" width="35.47" height="10.60" fill="#296600"/>
<rect x="309.17" y="520.40" width="10.47" height="10.60" fill="#236600"/>
<rect x="319.33" y="520.40" width="10.47" height="10.60" fill="#236600"/>
<rect x="329.50" y="520.40" width="10.47" height="10.60" fill="#296600"/>
<rect x="339.67" y="520.40" width="10.47" height="10.60" fill="#33bf00"/>
<rect x="349.83" y="520.40" width="10.47" height="10.60" fill="#41bf00"/>
<rect x="360.00" y="520.40" width="10.47" height="10.60" fill="#48bf00"/>
<rect x="370.17" y="520.40" width="10.47" height="10.60" fill="#4ebf00"/>
<rect x="380.33" y="520.40" width="10.47" height="10.60" fill="#51bf00"/>
<rect x="390.50" y="520.40" width="10.47" height="10.60" fill="#51bf00"/>
<rect x="400.67" y="520.40" width="10.47" height="10.60" fill="#51bf00"/>
<rect x="410.83" y="520.40" width="35.47" height="10.60" fill="#51bf00"/>
<rect x="274.00" y="530.70" width="35.47" height="10.60" fill="#29bf00"/>
<rect x="309.17" y="530.70" width="10.47" height="10.60" fill="#29bf00"/>
<rect x="319.33" y="530.70" width="10.47" height="10.60" fill="#29bf00"/>
<rect x="329.50" y="530.70" width="10.47" height="10.60" fill="#2dbf00"/>
<rect x="339.67" y="530.70" width="10.47" height="10.60" fill="#33bf00"/>
<rect x="349.83" y="530.70" width="10.47" height="10.60" fill="#41bf00"/>
<rect x="360.00" y="530.70" width="10.47" height="10.60" fill="#48bf00"/>
<rect x="370.17" y="530.70" width="10.47" height="10.60" fill="#4ebf00"/>
<rect x="380.33" y="530.70" width="10.47" height="10.60" fill="#51bf00"/>
<rect x="390.50" y="530.70" width="10.47" height="10.60" fill="#4ebf00"/>
<rect x="400.67" y="530.70" width="10.47" height="10.60" fill="#51bf00"/>
<rect x="410.83" y="530.70" width="35.47" height="10.60" fill="#51bf00"/>
<rect x="274.00" y="541.00" width="35.47" height="10.60" fill="#41bf00"/>
<rect x="309.17" y="541.00" width="10.47" height="10.60" fill="#41bf00"/>
<rect x="319.33" y="541.00" width="10.47" height="10.60" fill="#41bf00"/>
<rect x="329.50" y="541.00" width="10.47" height="10.60" fill="#41bf00"/>
<rect x="339.67" y="541.00" width="10.47" height="10.60" fill="#41bf00"/>
<rect x="349.83" y="541.00" width="10.47" height="10.60" fill="#4bbf00"/>
<rect x="360.00" y="541.00" width="10.47" height="10.60" fill="#51bf00"/>
<rect x="370.17" y="541.00" width="10.47" height="10.60" fill="#51bf00"/>
<rect x="380.33" y="541.00" width="10.47" height="10.60" fill="#51bf00"/>
<rect x="390.50" y="541.00" width="10.47" height="10.60" fill="#51bf00"/>
<rect x="400.67" y="541.00" width="10.47" height="10.60" fill="#51bf00"/>
<rect x="410.83" y="541.00" width="35.47" height="10.60" fill="#51bf00"/>
<rect x="274.00" y="551.30" width="35.47" height="10.60" fill="#4bbf00"/>
<rect x="309.17" y="551.30" width="10.47" height="10.60" fill="#4bbf00"/>
<rect x="319.33" y="551.30" width="10.47" height="10.60" fill="#4bbf00"/>
<rect x="329.50" y="551.30" width="10.47" height="10.60" fill="#4bbf00"/>
<rect x="339.67" y="551.30" width="10.47" height="10.60" fill="#4bbf00"/>
<rect x="349.83" y="551.30" width="10.47" height="10.60" fill="#51bf00"/>
<rect x="360.00" y="551.30" width="10.47" height="10.60" fill="#58bf00"/>
<rect x="370.17" y="551.30" width="10.47" height="10.60" fill="#58bf00"/>
<rect x="380.33" y="551.30" width="10.47" height="10.60" fill="#58bf00"/>
<rect x="390.50" y="551.30" width="10.47" height="10.60" fill="#5bbf00"/>
<rect x="400.67" y="551.30" width="10.47" height="10.60" fill="#51bf00"/>
<rect x="410.83" y="551.30" width="35.47" height="10.60" fill="#51bf00"/>
<rect x="274.00" y="561.60" width="35.47" height="10.60" fill="#4bbf00"/>
<rect x="309.17" y="561.60" width="10.47" height="10.60" fill="#4bbf00"/>
<rect x="319.33" y="561.60" width="10.47" height="10.60" fill="#4bbf00"/>
<rect x="329.50" y="561.60" width="10.47" height="10.60" fill="#4bbf00"/>
<rect x="339.67" y="561.60" width="10.47" height="10.60" fill="#4bbf00"/>
<rect x="349.83" y="561.60" width="10.47" height="10.60" fill="#51bf00"/>
<rect x="360.00" y="561.60" width="10.47" height="10.60" fill="#58bf00"/>
<rect x="370.17" y="561.60" width="10.47" height="10.60" fill="#5bbf00"/>
<rect x="380.33" y="561.60" width="10.47" height="10.60" fill="#51bf00"/>
<rect x="390.50" y="561.60" width="10.47" height="10.60" fill="#58bf00"/>
<rect x="400.67" y="561.60" width="10.47" height="10.60" fill="#5bbf00"/>
<rect x="410.83" y="561.60" width="35.47" height="10.60" fill="#61bf00"/>
<rect x="274.00" y="571.90" width="35.47" height="10.60" fill="#4bbf00"/>
<rect x="309.17" y="571.90" width="10.47" height="10.60" fill="#45bf00"/>
<rect x="319.33" y="571.90" width="10.47" height="10.60" fill="#4bbf00"/>
<rect x="329.50" y="571.90" width="10.47" height="10.60" fill="#51bf00"/>
<rect x="339.67" y="571.90" width="10.47" height="10.60" fill="#61bf00"/>
<rect x="349.83" y="571.90" width="10.47" height="10.60" fill="#78bf00"/>
<rect x="360.00" y="571.90" width="10.47" height="10.60" fill="#78bf00"/>
<rect x="370.17" y="571.90" width="10.47" height="10.60" fill="#81bf00"/>
<rect x="380.33" y="571.90" width="10.47" height="10.60" fill="#61bf00"/>
<rect x="390.50" y="571.90" width="10.47" height="10.60" fill="#61bf00"/>
<rect x="400.67" y="571.90" width="10.47" height="10.60" fill="#6bbf00"/>
<rect x="410.83" y="571.90" width="35.47" height="10.60" fill="#6bbf00"/>
<rect x="274.00" y="582.20" width="35.47" height="10.60" fill="#409900"/>
<rect x="309.17" y="582.20" width="10.47" height="10.60" fill="#409900"/>
<rect x="319.33" y="582.20" width="10.47" height="10.60" fill="#439900"/>
<rect x="329.50" y="582.20" width="10.47" height="10.60" fill="#499900"/>
<rect x="339.67" y="582.20" width="10.47" height="10.60" fill="#599900"/>
<rect x="349.83" y="582.20" width="10.47" height="10.60" fill="#599900"/>
<rect x="360.00" y="582.20" width="10.47" height="10.60" fill="#599900"/>
<rect x="370.17" y="582.20" width="10.47" height="10.60" fill="#73bf00"/>
<rect x="380.33" y="582.20" width="10.47" height="10.60" fill="#81bf00"/>
<rect x="390.50" y="582.20" width="10.47" height="10.60" fill="#81bf00"/>
<rect x="400.67" y="582.20" width="10.47" height="10.60" fill="#61bf00"/>
<rect x="410.83" y="582.20" width="35.47" height="10.60" fill="#61bf00"/>
<rect x="274.00" y="592.50" width="35.47" height="10.60" fill="#299900"/>
<rect x="309.17" y="592.50" width="10.47" height="10.60" fill="#299900"/>
<rect x="319.33" y="592.50" width="10.47" height="10.60" fill="#2d9900"/>
<rect x="329.50" y="592.50" width="10.47" height="10.60" fill="#339900"/>
<rect x="339.67" y="592.50" width="10.47" height="10.60" fill="#399900"/>
<rect x="349.83" y="592.50" width="10.47" height="10.60" fill="#409900"/>
<rect x="360.00" y="592.50" width="10.47" height="10.60" fill="#499900"/>
<rect x="370.17" y="592.50" width="10.47" height="10.60" fill="#59bf00"/>
<rect x="380.33" y="592.50" width="10.47" height="10.60" fill="#71bf00"/>
<rect x="390.50" y="592.50" width="10.47" height="10.60" fill="#6bbf00"/>
<rect x="400.67" y="592.50" width="10.47" height="10.60" fill="#58bf00"/>
<rect x="410.83" y="592.50" width="35.47" height="10.60" fill="#5bbf00"/>
<rect x="274.00" y="602.80" width="35.47" height="10.60" fill="#209900"/>
<rect x="309.17" y="602.80" width="10.47" height="10.60" fill="#209900"/>
<rect x="319.33" y="602.80" width="10.47" height="10.60" fill="#239900"/>
<rect x="329.50" y="602.80" width="10.47" height="10.60" fill="#299900"/>
<rect x="339.67" y="602.80" width="10.47" height="10.60" fill="#309900"/>
<rect x="349.83" y="602.80" width="10.47" height="10.60" fill="#339900"/>
<rect x="360.00" y="602.80" width="10.47" height="10.60" fill="#409900"/>
<rect x="370.17" y="602.80" width="10.47" height="10.60" fill="#53bf00"/>
<rect x="380.33" y="602.80" width="10.47" height="10.60" fill="#6bbf00"/>
<rect x="390.50" y="602.80" width="10.47" height="10.60" fill="#6bbf00"/>
<rect x="400.67" y="602.80" width="10.47" height="10.60" fill="#5bbf00"/>
<rect x="410.83" y="602.80" width="35.47" height="10.60" fill="#61bf00"/>
<rect x="274.00" y="613.10" width="35.47" height="10.60" fill="#209900"/>
<rect x="309.17" y="613.10" width="10.47" height="10.60" fill="#1d9900"/>
<rect x="319.33" y="613.10" width="10.47" height="10.60" fill="#209900"/>
<rect x="329.50" y="613.10" width="10.47" height="10.60" fill="#239900"/>
<rect x="339.67" y="613.10" width="10.47" height="10.60" fill="#299900"/>
<rect x="349.83" y="613.10" width="10.47" height="10.60" fill="#2d9900"/>
<rect x="360.00" y="613.10" width="10.47" height="10.60" fill="#339900"/>
<rect x="370.17" y="613.10" width="10.47" height="10.60" fill="#46bf00"/>
<rect x="380.33" y="613.10" width="10.47" height="10.60" fill="#54bf00"/>
<rect x="390.50" y="613.10" width="10.47" height="10.60" fill="#5bbf00"/>
<rect x="400.67" y="613.10" width="10.47" height="10.60" fill="#5bbf00"/>
<rect x="410.83" y="613.10" width="35.47" height="10.60" fill="#5bbf00"/>
<rect x="274.00" y="623.40" width="35.47" height="10.60" fill="#239900"/>
<rect x="309.17" y="623.40" width="10.47" height="10.60" fill="#209900"/>
<rect x="319.33" y="623.40" width="10.47" height="10.60" fill="#209900"/>
<rect x="329.50" y="623.40" width="10.47" height="10.60" fill="#239900"/>
<rect x="339.67" y="623.40" width="10.47" height="10.60" fill="#269900"/>
<rect x="349.83" y="623.40" width="10.47" height="10.60" fill="#299900"/>
<rect x="360.00" y="623.40" width="10.47" height="10.60" fill="#2d9900"/>
<rect x="370.17" y="623.40" width="10.47" height="10.60" fill="#39bf00"/>
<rect x="380.33" y="623.40" width="10.47" height="10.60" fill="#4ebf00"/>
<rect x="390.50" y="623.40" width="10.47" height="10.60" fill="#54bf00"/>
<rect x="400.67" y="623.40" width="10.47" height="10.60" fill="#54bf00"/>
<rect x="410.83" y="623.40" width="35.47" height="10.60" fill="#54bf00"/>
<rect x="274.00" y="633.70" width="35.47" height="35.60" fill="#239900"/>
<rect x="309.17" y="633.70" width="10.47" height="35.60" fill="#239900"/>
<rect x="319.33" y="633.70" width="10.47" height="35.60" fill="#239900"/>
<rect x="329.50" y="633.70" width="10.47" height="35.60" fill="#239900"/>
<rect x="339.67" y="633.70" width="10.47" height="35.60" fill="#269900"/>
<rect x="349.83" y="633.70" width="10.47" height="35.60" fill="#299900"/>
<rect x="360.00" y="633.70" width="10.47" height="35.60" fill="#2d9900"/>
<rect x="370.17" y="633.70" width="10.47" height="35.60" fill="#33bf00"/>
<rect x="380.33" y="633.70" width="10.47" height="35.60" fill="#48bf00"/>
<rect x="390.50" y="633.70" width="10.47" height="35.60" fill="#4ebf00"/>
<rect x="400.67" y="633.70" width="10.47" height="35.60" fill="#4ebf00"/>
<rect x="410.83" y="633.70" width="35.47" height="35.60" fill="#4ebf00"/>
</g>
<ellipse cx="372.7" cy="40.9" rx="1.6" ry="1.1" transform="rotate(0 372.7 40.9)" fill="#ef4c00" opacity="1"/>
<ellipse cx="354" cy="53" rx="2" ry="1.5" transform="rotate(0 354 53)" fill="#df8000" opacity="1"/>
<ellipse cx="329" cy="40" rx="3" ry="10" transform="rotate(-10 329 40)" fill="#60e600" opacity="0.7" filter="url(#bb2)"/>
<ellipse cx="362.5" cy="76" rx="5.5" ry="4" transform="rotate(0 362.5 76)" fill="#9fff00" opacity="0.9" filter="url(#bb2)"/>
<ellipse cx="350" cy="68" rx="7" ry="7" transform="rotate(0 350 68)" fill="#6ce600" opacity="0.6" filter="url(#bb3)"/>
<ellipse cx="382" cy="51.5" rx="6" ry="1.5" transform="rotate(-15 382 51.5)" fill="#69e600" opacity="0.8" filter="url(#bb1)"/>
<ellipse cx="383.7" cy="86" rx="3" ry="3" transform="rotate(0 383.7 86)" fill="#79e600" opacity="0.7" filter="url(#bb1)"/>
<ellipse cx="381.5" cy="80.5" rx="0.9" ry="0.6" transform="rotate(0 381.5 80.5)" fill="#ef3300" opacity="1"/>
<ellipse cx="384" cy="83.3" rx="0.6" ry="0.6" transform="rotate(0 384 83.3)" fill="#df3300" opacity="1"/>
<ellipse cx="386.5" cy="86.1" rx="1.1" ry="0.8" transform="rotate(0 386.5 86.1)" fill="#ff3300" opacity="1"/>
<ellipse cx="389.3" cy="84.4" rx="0.6" ry="0.6" transform="rotate(0 389.3 84.4)" fill="#df3300" opacity="1"/>
<ellipse cx="369.3" cy="88.3" rx="1.6" ry="0.6" transform="rotate(0 369.3 88.3)" fill="#ff3300" opacity="1"/>
<ellipse cx="394.3" cy="104.4" rx="0.7" ry="0.7" transform="rotate(0 394.3 104.4)" fill="#df3300" opacity="1"/>
<ellipse cx="414" cy="125" rx="7" ry="3" transform="rotate(-20 414 125)" fill="#99e600" opacity="0.8" filter="url(#bb2)"/>
<ellipse cx="385.4" cy="111.6" rx="2.5" ry="2.5" transform="rotate(0 385.4 111.6)" fill="#8fe600" opacity="0.9" filter="url(#bb1)"/>
<ellipse cx="300" cy="109" rx="2" ry="2" transform="rotate(0 300 109)" fill="#8fe600" opacity="0.9" filter="url(#bb1)"/>
<ellipse cx="395" cy="136" rx="11" ry="6" transform="rotate(15 395 136)" fill="#9fff00" opacity="0.85" filter="url(#bb3)"/>
<ellipse cx="415" cy="128" rx="5" ry="4" transform="rotate(0 415 128)" fill="#93ff00" opacity="0.8" filter="url(#bb2)"/>
<ellipse cx="420" cy="135" rx="2.5" ry="3" transform="rotate(0 420 135)" fill="#ff3300" opacity="1"/>
<ellipse cx="374" cy="154" rx="9" ry="6" transform="rotate(30 374 154)" fill="#8fff00" opacity="0.85" filter="url(#bb3)"/>
<ellipse cx="414" cy="153.5" rx="6" ry="2" transform="rotate(0 414 153.5)" fill="#86e600" opacity="0.8" filter="url(#bb2)"/>
<ellipse cx="322" cy="202" rx="1.5" ry="2" transform="rotate(0 322 202)" fill="#bf8000" opacity="1"/>
<ellipse cx="304" cy="476" rx="6" ry="7" transform="rotate(0 304 476)" fill="#89ff00" opacity="0.85" filter="url(#bb3)"/>
<ellipse cx="316" cy="496" rx="3" ry="3" transform="rotate(0 316 496)" fill="#86e600" opacity="0.8" filter="url(#bb2)"/>
<ellipse cx="327" cy="484" rx="13" ry="7" transform="rotate(-48 327 484)" fill="#89ff00" opacity="0.85" filter="url(#bb3)"/>
<ellipse cx="371" cy="488" rx="12" ry="8" transform="rotate(0 371 488)" fill="#7cff00" opacity="0.85" filter="url(#bb3)"/>
<ellipse cx="350" cy="466" rx="30" ry="4.5" transform="rotate(-5 350 466)" fill="#70ff00" opacity="0.75" filter="url(#bb3)"/>
<ellipse cx="353" cy="449" rx="1.5" ry="1.2" transform="rotate(0 353 449)" fill="#bf8000" opacity="1"/>
<ellipse cx="356" cy="513" rx="18" ry="4" transform="rotate(-5 356 513)" fill="#69ff00" opacity="0.75" filter="url(#bb3)"/>
<ellipse cx="396" cy="524" rx="14" ry="9" transform="rotate(0 396 524)" fill="#73ff00" opacity="0.7" filter="url(#bb3)"/>
<ellipse cx="349" cy="582.5" rx="6" ry="4" transform="rotate(0 349 582.5)" fill="#9fff00" opacity="0.9" filter="url(#bb2)"/>
<ellipse cx="367.6" cy="576.6" rx="11" ry="6" transform="rotate(0 367.6 576.6)" fill="#93ff00" opacity="0.85" filter="url(#bb2)"/>
<ellipse cx="390.5" cy="587.6" rx="12" ry="6" transform="rotate(0 390.5 587.6)" fill="#9fff00" opacity="0.85" filter="url(#bb2)"/>
<ellipse cx="389" cy="603.7" rx="9" ry="7" transform="rotate(0 389 603.7)" fill="#86ff00" opacity="0.85" filter="url(#bb3)"/>
<ellipse cx="412.5" cy="575" rx="8" ry="8" transform="rotate(0 412.5 575)" fill="#80e600" opacity="0.7" filter="url(#bb3)"/>
<ellipse cx="332" cy="581.7" rx="11" ry="2" transform="rotate(15 332 581.7)" fill="#73e600" opacity="0.8" filter="url(#bb2)"/>
</g>
<g shape-rendering="crispEdges">
<polygon points="349.8,25.2 351.2,29.1 352.9,32.4 357.5,33.1 361.4,32.1 364.2,30.2 368.8,29.1 373.6,27.4 374.4,25.2" fill="#cccccc" />
<polygon points="385.8,25.2 388.0,29.4 391.3,33.1 395.6,37.9 399.0,42.1 404.1,43.8 407.4,48.0 408.3,54.0 407.1,59.9 404.9,65.8 404.4,69.7 407.4,71.8 409.1,73.1 412.5,69.7 413.4,70.9 410.0,75.1 407.4,76.8 408.3,80.2 411.7,82.8 415.9,88.7 419.6,91.2 420.2,97.2 421.8,98.9 421.8,25.2" fill="#cccccc" />
<polygon points="422.0,166.0 421.0,166.3 413.2,167.3 409.3,168.8 405.4,169.2 399.6,170.2 395.7,169.7 391.8,171.7 388.9,173.1 384.1,174.6 380.2,176.0 377.2,179.0 373.4,181.9 371.9,185.3 372.4,188.2 369.5,190.6 365.6,191.6 361.2,193.1 362.7,194.0 366.6,194.0 370.4,194.5 373.4,194.5 376.3,193.5 380.2,192.6 382.1,189.2 386.0,188.2 389.9,187.7 392.8,187.2 395.7,184.3 398.6,181.9 401.6,179.9 405.4,178.0 409.3,177.5 414.2,177.5 421.0,176.5 422.0,176.5" fill="#cccccc" />
<polygon points="400.7,194.2 403.2,192.5 407.4,193.1 410.0,195.1 410.8,198.5 408.3,201.5 404.1,202.7 401.5,200.2 400.3,196.8" fill="#cccccc" />
<polygon points="298.2,198.5 308.3,198.8 311.7,200.2 315.1,199.3 319.3,200.2 322.7,203.6 324.4,207.8 322.7,212.0 319.3,217.1 315.9,221.3 313.4,225.6 311.7,229.0 310.9,232.0 310.5,232.0 309.5,236.2 307.5,237.9 305.8,240.5 308.3,242.2 310.0,244.7 307.5,247.2 306.6,252.3 305.8,257.4 304.9,262.5 303.2,268.4 300.7,271.8 298.2,272.7" fill="#cccccc" />
<polygon points="318.5,221.3 321.9,219.7 324.4,220.5 322.7,223.9 320.2,226.4 318.5,225.6" fill="#cccccc" />
<polygon points="298.2,282.8 302.4,282.8 302.4,289.6 298.2,290.5" fill="#cccccc" />
<polygon points="326.1,307.4 330.3,305.7 334.6,305.2 335.4,306.6 331.2,307.9 327.0,309.1" fill="#cccccc" />
<polygon points="341.4,304.9 343.4,304.5 343.4,305.9 341.4,306.2" fill="#cccccc" />
<polygon points="318.5,312.0 321.9,312.0 321.9,313.3 318.5,313.3" fill="#cccccc" />
<polygon points="298.2,315.9 304.1,316.7 309.2,318.4 315.9,318.8 324.4,317.6 332.9,315.9 339.7,315.0 346.4,315.4 354.9,315.0 360.0,314.2 366.8,315.0 371.9,316.7 376.1,320.1 380.3,324.3 385.4,327.7 391.3,330.3 397.3,335.0 399.0,335.0 397.3,340.1 396.4,345.2 397.6,350.2 395.6,353.6 393.9,357.0 391.9,362.1 391.3,368.9 391.3,377.4 390.5,384.1 389.7,390.9 388.8,396.0 388.0,402.8 386.3,407.9 384.6,412.1 385.4,416.3 388.8,421.4 391.3,426.5 394.7,431.6 398.1,438.0 400.7,438.0 404.1,443.1 409.1,446.5 414.2,449.9 421.8,453.2 421.8,475.6 414.2,474.9 407.4,474.4 404.1,476.1 402.7,478.7 400.7,473.6 397.3,471.0 392.2,469.3 387.1,466.8 388.0,463.4 386.3,459.2 382.9,454.9 376.9,451.6 370.2,449.0 366.8,445.6 364.2,442.2 360.8,443.9 358.3,447.3 355.8,446.5 353.2,441.4 347.3,440.5 345.6,438.0 342.7,438.0 343.4,431.6 343.9,426.5 345.6,421.4 343.9,416.3 344.0,437.5 342.3,433.3 342.3,429.2 345.2,425.8 344.8,423.3 341.5,419.6 344.0,419.2 344.4,416.7 342.3,414.2 338.2,410.8 334.8,407.5 330.7,404.2 326.5,399.2 323.2,394.2 318.2,390.4 314.0,386.7 310.7,383.3 307.3,380.8 305.7,378.3 308.2,377.5 310.7,376.7 310.2,373.8 308.2,371.7 304.8,370.0 302.3,370.8 298.0,371.7" fill="#cccccc" />
</g>
<g stroke-linejoin="round" stroke-linecap="round">
<polyline points="310.9,338.4 310.0,345.2 312.6,350.2 309.2,353.6 306.6,352.8 305.8,357.9" fill="none" stroke="#8a8a8a" stroke-width="0.9" />
<polyline points="299.0,335.0 305.8,336.7 310.9,338.4 317.6,336.7 324.4,337.5 332.9,340.1 335.4,343.5 343.1,340.9 354.9,340.1 360.3,338.7" fill="none" stroke="#8a8a8a" stroke-width="0.9" />
<polyline points="324.4,337.5 321.0,343.5 319.3,350.2 322.7,353.6 324.4,360.4" fill="none" stroke="#8a8a8a" stroke-width="0.9" />
<polyline points="335.4,343.5 332.9,348.6 335.4,353.6" fill="none" stroke="#8a8a8a" stroke-width="0.9" />
<polyline points="299.0,351.9 305.8,352.8" fill="none" stroke="#8a8a8a" stroke-width="0.9" />
<polyline points="299.0,341.8 303.2,342.6 306.6,345.2 310.0,345.2" fill="none" stroke="#8a8a8a" stroke-width="0.9" />
<polyline points="312.6,350.2 315.9,355.3 315.1,360.4 319.3,362.1 324.4,360.4" fill="none" stroke="#8a8a8a" stroke-width="0.9" />
<polyline points="362.5,350.2 360.0,358.7 354.9,363.8 348.1,370.6 341.4,375.7 335.4,379.1 332.9,384.1 327.8,390.9" fill="none" stroke="#8a8a8a" stroke-width="0.9" />
<polyline points="335.4,379.1 340.5,385.8 341.4,392.6 338.0,399.4 336.3,404.5" fill="none" stroke="#8a8a8a" stroke-width="0.9" />
<polyline points="354.9,373.1 358.3,380.8 359.2,389.2 363.4,396.0 370.2,402.8 376.9,409.6 383.7,416.3" fill="none" stroke="#8a8a8a" stroke-width="0.9" />
<polyline points="341.4,385.8 349.8,384.1 358.3,380.8" fill="none" stroke="#8a8a8a" stroke-width="0.9" />
<polyline points="326.1,375.7 331.2,377.4 335.4,379.1" fill="none" stroke="#8a8a8a" stroke-width="0.9" />
<polyline points="341.4,392.6 348.1,390.9 359.2,389.2" fill="none" stroke="#8a8a8a" stroke-width="0.9" />
<polyline points="363.4,396.0 358.3,402.8 354.9,409.6 349.8,414.6" fill="none" stroke="#8a8a8a" stroke-width="0.9" />
<polyline points="315.9,385.8 321.0,382.4 324.4,375.7 326.1,370.6" fill="none" stroke="#8a8a8a" stroke-width="0.9" />
<polyline points="349.8,418.0 353.2,423.1 361.7,427.3 370.2,424.8 376.1,422.3" fill="none" stroke="#8a8a8a" stroke-width="0.9" />
<polyline points="363.4,428.2 364.2,438.0" fill="none" stroke="#8a8a8a" stroke-width="0.9" />
<polyline points="376.9,423.1 377.8,429.9 375.2,438.0" fill="none" stroke="#8a8a8a" stroke-width="0.9" />
<polyline points="383.7,424.0 382.0,438.0" fill="none" stroke="#8a8a8a" stroke-width="0.9" />
<polyline points="327.8,390.9 332.9,394.3 338.0,399.4" fill="none" stroke="#8a8a8a" stroke-width="0.9" />
<polyline points="360.3,314.7 360.3,335.0" fill="none" stroke="#8a8a8a" stroke-width="0.9" />
<polyline points="360.3,335.0 360.3,338.7" fill="none" stroke="#8a8a8a" stroke-width="0.9" />
<polyline points="302.4,316.7 304.1,323.5 309.2,326.9 319.3,326.0 327.8,324.3 334.6,325.2 346.4,323.5 351.5,326.9 360.3,330.3" fill="none" stroke="#8a8a8a" stroke-width="0.9" />
<polyline points="334.6,325.2 332.9,330.3 335.4,335.0" fill="none" stroke="#8a8a8a" stroke-width="0.9" />
<polyline points="321.0,326.9 322.7,332.0 324.4,335.0" fill="none" stroke="#8a8a8a" stroke-width="0.9" />
<polyline points="368.5,441.4 371.9,439.7 378.6,440.5 383.7,443.1 390.5,441.4 393.9,438.8" fill="none" stroke="#8a8a8a" stroke-width="0.9" />
<polyline points="368.5,441.4 367.6,444.8 371.9,447.3 378.6,446.5 383.7,448.2 387.1,450.7 393.9,453.2 400.7,456.6" fill="none" stroke="#8a8a8a" stroke-width="0.9" />
<polyline points="378.6,440.5 380.3,445.6 383.7,448.2" fill="none" stroke="#8a8a8a" stroke-width="0.9" />
<polyline points="353.2,438.0 356.6,439.7 358.3,438.0" fill="none" stroke="#8a8a8a" stroke-width="0.9" />
<polyline points="390.5,441.4 392.2,446.5 400.7,449.9 404.1,451.6" fill="none" stroke="#8a8a8a" stroke-width="0.9" />
<polyline points="407.4,459.2 414.2,461.7 421.0,464.3" fill="none" stroke="#8a8a8a" stroke-width="0.9" />
<polyline points="307.5,200.2 307.8,210.3 305.8,217.1 299.0,220.5" fill="none" stroke="#8a8a8a" stroke-width="0.9" />
<polyline points="321.0,340.1 326.1,345.2 334.6,342.6 341.4,340.9 343.9,340.1" fill="none" stroke="#6f9fd8" stroke-width="0.9" />
<polyline points="339.7,345.2 343.1,348.6 346.4,351.1 349.8,348.6 354.9,344.3 360.0,340.1" fill="none" stroke="#6f9fd8" stroke-width="0.9" />
<polyline points="299.0,346.9 302.4,348.6" fill="none" stroke="#6f9fd8" stroke-width="0.9" />
<polyline points="311.7,351.1 317.6,350.2 324.4,351.9 327.8,349.4" fill="none" stroke="#6f9fd8" stroke-width="0.9" />
<polyline points="361.7,355.3 363.4,362.1 368.5,368.0 373.6,370.6 380.3,367.2 385.4,368.0 390.5,368.9" fill="none" stroke="#6f9fd8" stroke-width="0.9" />
<polyline points="356.6,374.8 363.4,373.1 370.2,376.5 376.9,374.8 382.0,371.4 387.1,377.4 391.3,379.1" fill="none" stroke="#6f9fd8" stroke-width="0.9" />
<polyline points="356.6,394.3 361.7,396.0 366.8,395.2 373.6,393.5 380.3,394.3 387.1,395.2" fill="none" stroke="#6f9fd8" stroke-width="0.9" />
<polyline points="336.3,379.9 343.1,376.5 348.1,375.7 354.9,374.8" fill="none" stroke="#6f9fd8" stroke-width="0.9" />
<polyline points="338.0,380.8 341.4,384.1 348.1,379.9 353.2,382.4" fill="none" stroke="#6f9fd8" stroke-width="0.9" />
<polyline points="327.8,389.2 332.9,387.5 335.4,392.6 338.0,390.9" fill="none" stroke="#6f9fd8" stroke-width="0.9" />
<polyline points="341.4,396.0 343.1,404.5 345.6,411.2 348.1,414.6" fill="none" stroke="#6f9fd8" stroke-width="0.9" />
<polyline points="344.8,396.0 351.5,399.4 358.3,404.5 363.4,411.2 365.1,418.0" fill="none" stroke="#6f9fd8" stroke-width="0.9" />
<polyline points="348.1,418.9 349.8,424.8 354.9,433.3" fill="none" stroke="#6f9fd8" stroke-width="0.9" />
<polyline points="361.7,428.2 366.8,427.3 371.9,424.0" fill="none" stroke="#6f9fd8" stroke-width="0.9" />
<polyline points="309.2,373.1 314.2,368.9 321.0,364.7 324.4,363.0" fill="none" stroke="#6f9fd8" stroke-width="0.9" />
<polyline points="302.4,316.7 301.5,323.5 299.8,330.3" fill="none" stroke="#6f9fd8" stroke-width="0.9" />
<polyline points="314.2,329.4 321.0,327.7 329.5,326.0 338.0,322.7 346.4,319.3 348.1,316.7" fill="none" stroke="#6f9fd8" stroke-width="0.9" />
<polyline points="362.5,335.0 366.8,332.0 371.9,326.9 374.4,320.1" fill="none" stroke="#6f9fd8" stroke-width="0.9" />
<polyline points="332.9,326.9 343.1,324.3" fill="none" stroke="#6f9fd8" stroke-width="0.9" />
<polyline points="387.1,449.9 392.2,448.2 399.0,446.5 402.4,445.6" fill="none" stroke="#6f9fd8" stroke-width="0.9" />
<polyline points="388.0,451.6 390.5,454.9 395.6,455.8 400.7,454.1" fill="none" stroke="#6f9fd8" stroke-width="0.9" />
<polyline points="388.8,459.2 393.9,460.9 400.7,460.0 407.4,460.9 414.2,463.4" fill="none" stroke="#6f9fd8" stroke-width="0.9" />
<polyline points="410.8,448.2 412.5,454.9 414.2,461.7" fill="none" stroke="#6f9fd8" stroke-width="0.9" />
<polyline points="417.6,454.9 421.0,455.8" fill="none" stroke="#6f9fd8" stroke-width="0.9" />
<polyline points="375.2,438.0 376.1,439.7" fill="none" stroke="#6f9fd8" stroke-width="0.9" />
<polyline points="358.3,26.0 359.2,28.0 359.7,30.2" fill="none" stroke="#6f9fd8" stroke-width="0.9" />
<polyline points="310.7,376.5 317.3,376.5 319.8,375.0 320.7,372.1 324.0,370.8 325.7,369.6 325.2,367.5 324.0,366.2 323.6,362.1 324.0,360.8 332.3,360.0 334.0,358.8 335.2,355.8 339.0,354.2 341.5,357.1 344.4,358.3 344.4,356.7 346.5,355.4 350.7,353.3 354.0,351.7 356.5,349.6 356.5,345.0 357.0,342.0 359.0,339.5 361.0,339.2 363.5,338.8 366.0,342.1 370.2,343.3 375.2,341.7 379.3,339.6 382.7,340.0 386.0,339.2 389.3,337.5 390.2,335.2 398.9,335.2" fill="none" stroke="#2a2a2a" stroke-width="1.0" />
<polyline points="298.0,358.3 304.0,358.8 304.8,360.4 303.2,362.5 302.8,365.4 304.4,367.0 302.0,368.3" fill="none" stroke="#2a2a2a" stroke-width="1.0" />
<polyline points="344.8,416.0 348.1,413.3 353.2,414.6 358.3,417.7 362.5,418.9 366.8,416.3 371.9,418.0 376.1,421.8 382.0,423.1 387.1,422.3" fill="none" stroke="#2a2a2a" stroke-width="1.0" />
<polyline points="404.4,446.1 407.4,448.2 403.7,451.6 402.7,456.6 407.4,459.2 404.9,463.4 404.1,468.5 400.7,472.7 403.2,478.7" fill="none" stroke="#2a2a2a" stroke-width="1.0" />
</g>
<filter id="jag" filterUnits="userSpaceOnUse" x="299" y="26" width="122" height="618" color-interpolation-filters="sRGB">
<feTurbulence type="fractalNoise" baseFrequency="0.35" numOctaves="2" seed="3" result="jt"/>
<feDisplacementMap in="SourceGraphic" in2="jt" scale="7" xChannelSelector="R" yChannelSelector="G" result="jd"/>
<feComponentTransfer in="jd"><feFuncA type="discrete" tableValues="0 1"/></feComponentTransfer>
</filter>
<g shape-rendering="crispEdges" filter="url(#jag)">
<polygon points="298.2,80.5 302.4,81.0 304.9,83.1 307.5,85.6 314.2,86.8 315.9,89.0 312.6,90.7 308.3,88.5 304.1,89.0 300.7,90.7 298.2,89.9" fill="#808080" />
<polygon points="355.8,86.5 358.3,83.9 365.1,83.4 370.2,84.8 371.9,87.3 377.8,89.0 382.0,91.2 384.6,94.1 384.6,100.0 391.3,102.6 394.7,104.3 393.9,106.8 388.0,107.7 383.7,108.5 382.9,111.9 386.3,114.4 390.5,111.0 391.3,114.4 387.1,117.8 382.0,118.7 377.8,118.7 374.4,116.1 370.2,114.4 366.8,116.1 364.2,117.8 365.9,120.4 363.4,120.4 361.7,115.3 360.8,111.9 357.5,109.3 356.6,106.0 353.2,104.3 349.8,105.1 348.1,103.4 349.8,100.0 353.2,97.5 357.5,94.1 359.2,90.7" fill="#808080" />
<path d="M317.6,103.4 L321.0,100.0 L324.4,99.2 L328.7,100.0 L332.9,97.5 L334.6,99.2 L332.0,101.7 L335.4,103.4 L339.7,101.7 L343.9,103.4 L348.1,103.4 L349.8,105.1 L346.4,106.8 L341.4,106.0 L338.0,108.5 L339.7,111.9 L342.2,114.4 L341.4,118.7 L338.8,119.5 L339.7,122.9 L335.4,124.6 L332.0,125.4 L328.7,123.8 L324.4,124.6 L321.0,122.1 L319.3,117.8 L315.9,119.5 L315.9,123.8 L312.6,125.4 L308.3,124.6 L304.9,126.3 L300.7,126.3 L300.7,122.9 L304.1,120.4 L307.5,118.7 L307.5,115.3 L302.4,116.1 L299.8,114.4 L300.7,111.0 L304.1,110.2 L306.6,106.8 L310.9,106.0 L314.2,106.8Z M313.4,115.0 L320.1,113.3 L326.8,114.4 L332.3,113.3 L336.8,115.0 L335.7,118.3 L331.2,119.4 L326.8,121.7 L321.2,120.6 L316.8,121.7 L313.4,118.3Z" fill="#808080" fill-rule="evenodd"/>
<polygon points="339.7,122.9 343.1,125.4 348.1,126.3 354.9,124.6 359.2,122.9 365.9,120.4 366.8,128.8 364.2,130.5 361.7,127.1 360.0,127.1 355.8,128.0 351.5,128.8 347.3,131.4 343.1,132.2 341.4,135.6 337.1,136.5 334.6,134.8 334.6,130.5 332.9,128.0 335.4,124.6" fill="#808080" />
<polygon points="298.2,537.2 309.2,536.9 310.0,533.0 313.4,532.2 315.9,534.7 319.3,533.9 324.4,533.5 328.7,534.7 332.0,533.9 333.7,529.6 335.4,532.2 341.4,532.5 348.1,532.5 354.9,534.7 363.4,537.2 371.9,538.1 378.6,536.4 385.4,535.6 391.3,535.9 392.2,537.6 387.1,538.6 382.9,539.8 381.2,544.0 382.0,548.3 378.6,550.0 373.6,550.0 370.2,551.7 369.3,550.8 367.6,547.4 366.8,544.9 363.4,544.0 361.7,542.3 357.5,544.0 353.2,544.9 353.2,545.7 355.8,547.4 359.2,549.1 363.4,550.0 366.8,553.3 363.4,555.0 364.2,558.4 361.7,559.3 358.3,555.9 354.9,556.7 353.2,558.4 349.0,559.3 348.1,561.8 343.9,561.8 341.4,563.5 338.0,562.7 332.9,563.5 330.3,561.8 324.4,563.5 320.2,562.7 317.6,560.1 316.8,562.7 312.6,562.7 309.2,561.8 305.8,562.7 301.5,561.8 298.2,562.7" fill="#808080" />
<polygon points="414.2,548.3 417.6,548.3 421.8,549.1 421.8,553.3 415.9,553.3 414.2,550.8" fill="#808080" />
<polygon points="373.6,534.7 400.7,533.5 401.5,534.7 373.6,535.9" fill="#808080" />
</g>
</g>
<g fill="#000" shape-rendering="crispEdges">
<rect x="298" y="25" width="124" height="1"/>
<rect x="298" y="644" width="124" height="1"/>
<rect x="298" y="25" width="1" height="620"/>
<rect x="421" y="25" width="1" height="620"/>
<rect x="291" y="644" width="7" height="1"/>
<rect x="295" y="624" width="3" height="1"/>
<rect x="295" y="603" width="3" height="1"/>
<rect x="295" y="582" width="3" height="1"/>
<rect x="295" y="562" width="3" height="1"/>
<rect x="291" y="541" width="7" height="1"/>
<rect x="295" y="521" width="3" height="1"/>
<rect x="295" y="500" width="3" height="1"/>
<rect x="295" y="479" width="3" height="1"/>
<rect x="295" y="459" width="3" height="1"/>
<rect x="291" y="438" width="7" height="1"/>
<rect x="295" y="417" width="3" height="1"/>
<rect x="295" y="397" width="3" height="1"/>
<rect x="295" y="376" width="3" height="1"/>
<rect x="295" y="356" width="3" height="1"/>
<rect x="291" y="335" width="7" height="1"/>
<rect x="295" y="314" width="3" height="1"/>
<rect x="295" y="294" width="3" height="1"/>
<rect x="295" y="273" width="3" height="1"/>
<rect x="295" y="252" width="3" height="1"/>
<rect x="291" y="232" width="7" height="1"/>
<rect x="295" y="211" width="3" height="1"/>
<rect x="295" y="190" width="3" height="1"/>
<rect x="295" y="170" width="3" height="1"/>
<rect x="295" y="149" width="3" height="1"/>
<rect x="291" y="129" width="7" height="1"/>
<rect x="295" y="108" width="3" height="1"/>
<rect x="295" y="87" width="3" height="1"/>
<rect x="295" y="67" width="3" height="1"/>
<rect x="295" y="46" width="3" height="1"/>
<rect x="291" y="25" width="7" height="1"/>
<rect x="298" y="645" width="1" height="3"/>
<rect x="318" y="645" width="1" height="3"/>
<rect x="339" y="645" width="1" height="3"/>
<rect x="359" y="645" width="1" height="6"/>
<rect x="380" y="645" width="1" height="3"/>
<rect x="400" y="645" width="1" height="3"/>
<rect x="421" y="645" width="1" height="3"/>
</g>
<g font-family="'DejaVu Sans','Liberation Sans',sans-serif" font-size="12" fill="#000" text-anchor="middle">
<text transform="translate(289,643) rotate(-90)" textLength="14" lengthAdjust="spacing">0°</text>
<text transform="translate(289,540) rotate(-90)" textLength="14" lengthAdjust="spacing">5°</text>
<text transform="translate(289,437) rotate(-90)" textLength="22" lengthAdjust="spacing">10°</text>
<text transform="translate(289,334) rotate(-90)" textLength="22" lengthAdjust="spacing">15°</text>
<text transform="translate(289,231) rotate(-90)" textLength="22" lengthAdjust="spacing">20°</text>
<text transform="translate(289,128) rotate(-90)" textLength="22" lengthAdjust="spacing">25°</text>
<text transform="translate(289,24) rotate(-90)" textLength="22" lengthAdjust="spacing">30°</text>
<text x="360.5" y="664" textLength="26" lengthAdjust="spacing">-85°</text>
</g>
<rect x="0.5" y="675.5" width="719" height="124" fill="#ffffcc" stroke="#000" stroke-width="1" shape-rendering="crispEdges"/>
<g shape-rendering="crispEdges">
<rect x="48" y="692" width="16" height="18" fill="#ffffcc"/>
<rect x="64" y="692" width="16" height="18" fill="#fffbc3"/>
<rect x="80" y="692" width="16" height="18" fill="#fff8ba"/>
<rect x="96" y="692" width="16" height="18" fill="#fff4b2"/>
<rect x="112" y="692" width="16" height="18" fill="#fff1a9"/>
<rect x="128" y="692" width="16" height="18" fill="#ffeda0"/>
<rect x="144" y="692" width="16" height="18" fill="#ffe998"/>
<rect x="160" y="692" width="16" height="18" fill="#ffe58f"/>
<rect x="176" y="692" width="16" height="18" fill="#fee187"/>
<rect x="192" y="692" width="16" height="18" fill="#fedd7e"/>
<rect x="208" y="692" width="16" height="18" fill="#fed976"/>
<rect x="224" y="692" width="16" height="18" fill="#fed16e"/>
<rect x="240" y="692" width="16" height="18" fill="#fec965"/>
<rect x="256" y="692" width="16" height="18" fill="#fec25d"/>
<rect x="272" y="692" width="16" height="18" fill="#feba54"/>
<rect x="288" y="692" width="16" height="18" fill="#feb24c"/>
<rect x="304" y="692" width="16" height="18" fill="#feab49"/>
<rect x="320" y="692" width="16" height="18" fill="#fea346"/>
<rect x="336" y="692" width="16" height="18" fill="#fd9c42"/>
<rect x="352" y="692" width="16" height="18" fill="#fd943f"/>
<rect x="368" y="692" width="16" height="18" fill="#fd8d3c"/>
<rect x="384" y="692" width="16" height="18" fill="#fd8038"/>
<rect x="400" y="692" width="16" height="18" fill="#fd7435"/>
<rect x="416" y="692" width="16" height="18" fill="#fc6731"/>
<rect x="432" y="692" width="16" height="18" fill="#fc5b2e"/>
<rect x="448" y="692" width="16" height="18" fill="#fc4e2a"/>
<rect x="464" y="692" width="16" height="18" fill="#f74427"/>
<rect x="480" y="692" width="16" height="18" fill="#f23924"/>
<rect x="496" y="692" width="16" height="18" fill="#ed2f22"/>
<rect x="512" y="692" width="16" height="18" fill="#e8241f"/>
<rect x="528" y="692" width="16" height="18" fill="#e31a1c"/>
<rect x="544" y="692" width="16" height="18" fill="#db151e"/>
<rect x="560" y="692" width="16" height="18" fill="#d41020"/>
<rect x="576" y="692" width="16" height="18" fill="#cc0a22"/>
<rect x="592" y="692" width="16" height="18" fill="#c50524"/>
<rect x="608" y="692" width="16" height="18" fill="#bd0026"/>
<rect x="624" y="692" width="16" height="18" fill="#b10026"/>
<rect x="640" y="692" width="16" height="18" fill="#a50026"/>
<rect x="656" y="692" width="16" height="18" fill="#980026"/>
<rect x="672" y="692" width="17" height="18" fill="#8c0026"/>
</g><g fill="#000" shape-rendering="crispEdges">
<rect x="48" y="710" width="1" height="4"/>
<rect x="64" y="710" width="1" height="3"/>
<rect x="80" y="710" width="1" height="3"/>
<rect x="96" y="710" width="1" height="3"/>
<rect x="112" y="710" width="1" height="4"/>
<rect x="128" y="710" width="1" height="3"/>
<rect x="144" y="710" width="1" height="3"/>
<rect x="160" y="710" width="1" height="3"/>
<rect x="176" y="710" width="1" height="4"/>
<rect x="192" y="710" width="1" height="3"/>
<rect x="208" y="710" width="1" height="3"/>
<rect x="224" y="710" width="1" height="3"/>
<rect x="240" y="710" width="1" height="4"/>
<rect x="256" y="710" width="1" height="3"/>
<rect x="272" y="710" width="1" height="3"/>
<rect x="288" y="710" width="1" height="3"/>
<rect x="304" y="710" width="1" height="4"/>
<rect x="320" y="710" width="1" height="3"/>
<rect x="336" y="710" width="1" height="3"/>
<rect x="352" y="710" width="1" height="3"/>
<rect x="368" y="710" width="1" height="4"/>
<rect x="384" y="710" width="1" height="3"/>
<rect x="400" y="710" width="1" height="3"/>
<rect x="416" y="710" width="1" height="3"/>
<rect x="432" y="710" width="1" height="4"/>
<rect x="448" y="710" width="1" height="3"/>
<rect x="464" y="710" width="1" height="3"/>
<rect x="480" y="710" width="1" height="3"/>
<rect x="496" y="710" width="1" height="4"/>
<rect x="512" y="710" width="1" height="3"/>
<rect x="528" y="710" width="1" height="3"/>
<rect x="544" y="710" width="1" height="3"/>
<rect x="560" y="710" width="1" height="4"/>
<rect x="576" y="710" width="1" height="3"/>
<rect x="592" y="710" width="1" height="3"/>
<rect x="608" y="710" width="1" height="3"/>
<rect x="624" y="710" width="1" height="4"/>
<rect x="640" y="710" width="1" height="3"/>
<rect x="656" y="710" width="1" height="3"/>
<rect x="672" y="710" width="1" height="3"/>
<rect x="688" y="710" width="1" height="4"/>
</g>
<g font-family="'DejaVu Sans','Liberation Sans',sans-serif" font-size="12" fill="#000" text-anchor="middle">
<text x="47.0" y="725">0</text>
<text x="111.0" y="725">0.1</text>
<text x="175.0" y="725">0.2</text>
<text x="239.0" y="725">0.3</text>
<text x="303.0" y="725">0.4</text>
<text x="367.0" y="725">0.5</text>
<text x="431.0" y="725">0.6</text>
<text x="495.0" y="725">0.7</text>
<text x="559.0" y="725">0.8</text>
<text x="623.0" y="725">0.9</text>
<text x="689.5" y="725">1</text>
</g>
<g font-family="'DejaVu Sans','Liberation Sans',sans-serif" font-size="11" fill="#000">
<text y="743" font-weight="bold" letter-spacing="0"><tspan x="48.2">ABI</tspan> <tspan x="73.3">L2+</tspan> <tspan x="101.1">Aerosol</tspan> <tspan x="153.8">Optical</tspan> <tspan x="203.5">Depth</tspan> <tspan x="245.6">at</tspan> <tspan x="262.8">550</tspan> <tspan x="289.6">nm</tspan> <tspan x="313.3">(1)</tspan></text>
<text y="754" letter-spacing="0"><tspan x="48.0">Experimental</tspan> <tspan x="126.4">NRT</tspan> <tspan x="151.8">AOD</tspan> <tspan x="180.3">daily</tspan> <tspan x="210.5">composite</tspan> <tspan x="273.3">created</tspan> <tspan x="320.0">from</tspan> <tspan x="351.1">ABI</tspan> <tspan x="373.9">L2</tspan> <tspan x="390.6">data</tspan> <tspan x="418.9">from</tspan> <tspan x="450.6">GOES-19.</tspan> <tspan x="509.5">Fields</tspan> <tspan x="546.6">generated</tspan> <tspan x="607.2">by</tspan> <tspan x="624.9">Atlantic</tspan></text>
<text y="765" letter-spacing="0"><tspan x="48.0">OceanWatch</tspan> <tspan x="121.3">node</tspan> <tspan x="153.0">at</tspan> <tspan x="168.2">NOAA/AOML</tspan></text>
<text y="776" letter-spacing="0.09"><tspan x="48.0">(2026-03-01T00:00:00Z)</tspan></text>
<text y="787" letter-spacing="0"><tspan x="48.0">Data</tspan> <tspan x="78.4">courtesy</tspan> <tspan x="131.6">of</tspan> <tspan x="146.2">USDOC/NOAA/OAR/AOML/PHOD</tspan></text>
</g>
</svg>
</body></html>
